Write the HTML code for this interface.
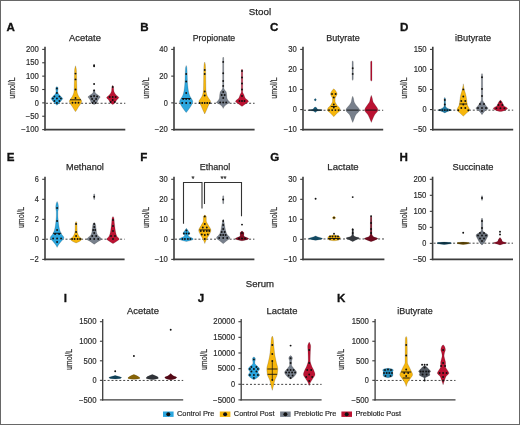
<!DOCTYPE html>
<html><head><meta charset="utf-8"><style>
html,body{margin:0;padding:0;background:#fff;}
body{width:520px;height:425px;overflow:hidden;}
svg{display:block;will-change:transform;font-family:"Liberation Sans",sans-serif;}
</style></head><body>
<svg width="520" height="425" viewBox="0 0 520 425">
<rect x="0" y="0" width="520" height="425" fill="#fff"/>
<rect x="0.5" y="0.5" width="519" height="424" fill="none" stroke="#676767" stroke-width="1"/>
<line x1="42.20" y1="49.40" x2="45.00" y2="49.40" stroke="#3c3c3c" stroke-width="1.1"/>
<text x="38.80" y="52.10" font-size="8.53" text-anchor="end" textLength="12.88" lengthAdjust="spacingAndGlyphs" fill="#2a2a2a" stroke="#2a2a2a" stroke-width="0.18">200</text>
<line x1="42.20" y1="62.77" x2="45.00" y2="62.77" stroke="#3c3c3c" stroke-width="1.1"/>
<text x="38.80" y="65.47" font-size="8.53" text-anchor="end" textLength="12.88" lengthAdjust="spacingAndGlyphs" fill="#2a2a2a" stroke="#2a2a2a" stroke-width="0.18">150</text>
<line x1="42.20" y1="76.13" x2="45.00" y2="76.13" stroke="#3c3c3c" stroke-width="1.1"/>
<text x="38.80" y="78.84" font-size="8.53" text-anchor="end" textLength="12.88" lengthAdjust="spacingAndGlyphs" fill="#2a2a2a" stroke="#2a2a2a" stroke-width="0.18">100</text>
<line x1="42.20" y1="89.50" x2="45.00" y2="89.50" stroke="#3c3c3c" stroke-width="1.1"/>
<text x="38.80" y="92.20" font-size="8.53" text-anchor="end" textLength="8.48" lengthAdjust="spacingAndGlyphs" fill="#2a2a2a" stroke="#2a2a2a" stroke-width="0.18">50</text>
<line x1="42.20" y1="102.87" x2="45.00" y2="102.87" stroke="#3c3c3c" stroke-width="1.1"/>
<text x="38.80" y="105.57" font-size="8.53" text-anchor="end" textLength="4.09" lengthAdjust="spacingAndGlyphs" fill="#2a2a2a" stroke="#2a2a2a" stroke-width="0.18">0</text>
<line x1="42.20" y1="116.23" x2="45.00" y2="116.23" stroke="#3c3c3c" stroke-width="1.1"/>
<text x="38.80" y="118.94" font-size="8.53" text-anchor="end" textLength="13.10" lengthAdjust="spacingAndGlyphs" fill="#2a2a2a" stroke="#2a2a2a" stroke-width="0.18">−50</text>
<line x1="42.20" y1="129.60" x2="45.00" y2="129.60" stroke="#3c3c3c" stroke-width="1.1"/>
<text x="38.80" y="132.30" font-size="8.53" text-anchor="end" textLength="17.49" lengthAdjust="spacingAndGlyphs" fill="#2a2a2a" stroke="#2a2a2a" stroke-width="0.18">−100</text>
<line x1="46.00" y1="103.27" x2="125.30" y2="103.27" stroke="#444" stroke-width="1.0" stroke-dasharray="2 1.9"/>
<path d="M56.90,86.50 L57.54,87.00 L57.90,87.50 L58.01,88.00 L58.08,88.50 L58.10,89.00 L58.05,89.50 L57.95,90.00 L57.85,90.50 L57.80,91.00 L57.82,91.50 L57.89,92.00 L57.98,92.50 L58.10,93.00 L58.30,93.50 L58.61,94.00 L59.00,94.50 L59.40,95.00 L59.85,95.50 L60.37,96.00 L60.90,96.50 L61.40,97.00 L61.94,97.50 L62.47,98.00 L62.70,98.50 L62.57,99.00 L62.23,99.50 L61.81,100.00 L61.40,100.50 L61.01,101.00 L60.59,101.50 L60.15,102.00 L59.70,102.50 L59.24,103.00 L58.76,103.50 L58.26,104.00 L57.75,104.50 L57.22,105.00 L56.90,105.30 L56.90,105.30 L56.58,105.00 L56.05,104.50 L55.54,104.00 L55.04,103.50 L54.56,103.00 L54.10,102.50 L53.65,102.00 L53.21,101.50 L52.79,101.00 L52.40,100.50 L51.99,100.00 L51.57,99.50 L51.23,99.00 L51.10,98.50 L51.33,98.00 L51.86,97.50 L52.40,97.00 L52.90,96.50 L53.43,96.00 L53.95,95.50 L54.40,95.00 L54.80,94.50 L55.19,94.00 L55.50,93.50 L55.70,93.00 L55.82,92.50 L55.91,92.00 L55.98,91.50 L56.00,91.00 L55.95,90.50 L55.85,90.00 L55.75,89.50 L55.70,89.00 L55.72,88.50 L55.79,88.00 L55.90,87.50 L56.26,87.00 L56.90,86.50Z" fill="#2ba6de" stroke="#000" stroke-opacity="0.3" stroke-width="0.5"/>
<circle cx="56.90" cy="88.50" r="0.95" fill="#111"/>
<circle cx="56.90" cy="93.00" r="0.95" fill="#111"/>
<circle cx="54.40" cy="96.50" r="0.95" fill="#111"/>
<circle cx="59.40" cy="96.50" r="0.95" fill="#111"/>
<circle cx="52.90" cy="98.50" r="0.95" fill="#111"/>
<circle cx="56.90" cy="98.50" r="0.95" fill="#111"/>
<circle cx="60.90" cy="98.50" r="0.95" fill="#111"/>
<circle cx="54.40" cy="101.00" r="0.95" fill="#111"/>
<circle cx="59.40" cy="101.00" r="0.95" fill="#111"/>
<circle cx="56.90" cy="103.00" r="0.95" fill="#111"/>
<path d="M75.50,65.80 L75.63,66.30 L75.77,66.80 L75.90,67.30 L76.03,67.80 L76.15,68.30 L76.25,68.80 L76.33,69.30 L76.39,69.80 L76.42,70.30 L76.44,70.80 L76.47,71.30 L76.49,71.80 L76.51,72.30 L76.53,72.80 L76.54,73.30 L76.56,73.80 L76.57,74.30 L76.58,74.80 L76.60,75.30 L76.61,75.80 L76.62,76.30 L76.63,76.80 L76.64,77.30 L76.65,77.80 L76.65,78.30 L76.66,78.80 L76.67,79.30 L76.68,79.80 L76.69,80.30 L76.70,80.80 L76.71,81.30 L76.72,81.80 L76.73,82.30 L76.74,82.80 L76.75,83.30 L76.76,83.80 L76.78,84.30 L76.79,84.80 L76.81,85.30 L76.83,85.80 L76.84,86.30 L76.85,86.80 L76.87,87.30 L76.88,87.80 L76.90,88.30 L76.92,88.80 L76.94,89.30 L76.96,89.80 L76.99,90.30 L77.01,90.80 L77.05,91.30 L77.08,91.80 L77.13,92.30 L77.23,92.80 L77.36,93.30 L77.53,93.80 L77.73,94.30 L77.94,94.80 L78.17,95.30 L78.41,95.80 L78.65,96.30 L78.96,96.80 L79.31,97.30 L79.67,97.80 L80.04,98.30 L80.38,98.80 L80.69,99.30 L81.05,99.80 L81.39,100.30 L81.63,100.80 L81.70,101.30 L81.61,101.80 L81.43,102.30 L81.18,102.80 L80.89,103.30 L80.61,103.80 L80.33,104.30 L80.02,104.80 L79.68,105.30 L79.33,105.80 L78.97,106.30 L78.63,106.80 L78.31,107.30 L78.01,107.80 L77.72,108.30 L77.43,108.80 L77.14,109.30 L76.83,109.80 L76.50,110.30 L76.15,110.80 L75.80,111.30 L75.50,111.70 L75.50,111.70 L75.20,111.30 L74.85,110.80 L74.50,110.30 L74.17,109.80 L73.86,109.30 L73.57,108.80 L73.28,108.30 L72.99,107.80 L72.69,107.30 L72.37,106.80 L72.03,106.30 L71.67,105.80 L71.32,105.30 L70.98,104.80 L70.67,104.30 L70.39,103.80 L70.11,103.30 L69.82,102.80 L69.57,102.30 L69.39,101.80 L69.30,101.30 L69.37,100.80 L69.61,100.30 L69.95,99.80 L70.31,99.30 L70.62,98.80 L70.96,98.30 L71.33,97.80 L71.69,97.30 L72.04,96.80 L72.35,96.30 L72.59,95.80 L72.83,95.30 L73.06,94.80 L73.27,94.30 L73.47,93.80 L73.64,93.30 L73.77,92.80 L73.87,92.30 L73.92,91.80 L73.95,91.30 L73.99,90.80 L74.01,90.30 L74.04,89.80 L74.06,89.30 L74.08,88.80 L74.10,88.30 L74.12,87.80 L74.13,87.30 L74.15,86.80 L74.16,86.30 L74.17,85.80 L74.19,85.30 L74.21,84.80 L74.22,84.30 L74.24,83.80 L74.25,83.30 L74.26,82.80 L74.27,82.30 L74.28,81.80 L74.29,81.30 L74.30,80.80 L74.31,80.30 L74.32,79.80 L74.33,79.30 L74.34,78.80 L74.35,78.30 L74.35,77.80 L74.36,77.30 L74.37,76.80 L74.38,76.30 L74.39,75.80 L74.40,75.30 L74.42,74.80 L74.43,74.30 L74.44,73.80 L74.46,73.30 L74.47,72.80 L74.49,72.30 L74.51,71.80 L74.53,71.30 L74.56,70.80 L74.58,70.30 L74.61,69.80 L74.67,69.30 L74.75,68.80 L74.85,68.30 L74.97,67.80 L75.10,67.30 L75.23,66.80 L75.37,66.30 L75.50,65.80Z" fill="#f6b60c" stroke="#000" stroke-opacity="0.3" stroke-width="0.5"/>
<line x1="70.00" y1="99.80" x2="81.00" y2="99.80" stroke="#111" stroke-width="0.9"/>
<circle cx="75.50" cy="73.60" r="0.95" fill="#111"/>
<circle cx="75.50" cy="79.40" r="0.95" fill="#111"/>
<circle cx="75.50" cy="89.50" r="0.95" fill="#111"/>
<circle cx="75.50" cy="98.00" r="0.95" fill="#111"/>
<circle cx="72.50" cy="102.70" r="0.95" fill="#111"/>
<circle cx="75.50" cy="102.70" r="0.95" fill="#111"/>
<circle cx="78.50" cy="102.70" r="0.95" fill="#111"/>
<path d="M94.10,89.50 L94.60,90.00 L94.90,90.50 L94.97,91.00 L95.00,91.50 L95.03,92.00 L95.10,92.50 L95.43,93.00 L95.99,93.50 L96.57,94.00 L97.24,94.50 L97.94,95.00 L98.60,95.50 L99.32,96.00 L99.98,96.50 L100.19,97.00 L99.95,97.50 L99.52,98.00 L99.10,98.50 L98.75,99.00 L98.41,99.50 L98.10,100.00 L97.84,100.50 L97.63,101.00 L97.43,101.50 L97.22,102.00 L96.95,102.50 L96.60,103.00 L96.04,103.50 L95.23,104.00 L94.29,104.50 L94.10,104.60 L94.10,104.60 L93.91,104.50 L92.97,104.00 L92.16,103.50 L91.60,103.00 L91.25,102.50 L90.98,102.00 L90.77,101.50 L90.57,101.00 L90.36,100.50 L90.10,100.00 L89.79,99.50 L89.45,99.00 L89.10,98.50 L88.68,98.00 L88.25,97.50 L88.01,97.00 L88.22,96.50 L88.88,96.00 L89.60,95.50 L90.26,95.00 L90.96,94.50 L91.63,94.00 L92.21,93.50 L92.77,93.00 L93.10,92.50 L93.17,92.00 L93.20,91.50 L93.23,91.00 L93.30,90.50 L93.60,90.00 L94.10,89.50Z" fill="#78808c" stroke="#000" stroke-opacity="0.3" stroke-width="0.5"/>
<circle cx="94.10" cy="65.30" r="0.95" fill="#111"/>
<circle cx="94.10" cy="66.30" r="0.95" fill="#111"/>
<circle cx="94.10" cy="84.00" r="0.95" fill="#111"/>
<circle cx="94.10" cy="90.40" r="0.95" fill="#111"/>
<circle cx="91.10" cy="96.50" r="0.95" fill="#111"/>
<circle cx="94.10" cy="96.00" r="0.95" fill="#111"/>
<circle cx="97.10" cy="96.50" r="0.95" fill="#111"/>
<circle cx="92.10" cy="99.00" r="0.95" fill="#111"/>
<circle cx="96.10" cy="99.00" r="0.95" fill="#111"/>
<circle cx="94.10" cy="101.00" r="0.95" fill="#111"/>
<circle cx="92.60" cy="103.00" r="0.95" fill="#111"/>
<circle cx="95.60" cy="103.00" r="0.95" fill="#111"/>
<path d="M112.70,85.20 L112.98,85.70 L113.23,86.20 L113.43,86.70 L113.53,87.20 L113.60,87.70 L113.65,88.20 L113.68,88.70 L113.72,89.20 L113.75,89.70 L113.79,90.20 L113.85,90.70 L113.94,91.20 L114.09,91.70 L114.30,92.20 L114.54,92.70 L114.81,93.20 L115.14,93.70 L115.54,94.20 L115.97,94.70 L116.43,95.20 L116.91,95.70 L117.56,96.20 L118.24,96.70 L118.71,97.20 L118.77,97.70 L118.50,98.20 L118.02,98.70 L117.47,99.20 L116.95,99.70 L116.57,100.20 L116.27,100.70 L116.01,101.20 L115.74,101.70 L115.42,102.20 L115.03,102.70 L114.53,103.20 L113.94,103.70 L113.27,104.20 L112.70,104.60 L112.70,104.60 L112.13,104.20 L111.46,103.70 L110.87,103.20 L110.37,102.70 L109.98,102.20 L109.66,101.70 L109.39,101.20 L109.13,100.70 L108.83,100.20 L108.45,99.70 L107.93,99.20 L107.38,98.70 L106.90,98.20 L106.63,97.70 L106.69,97.20 L107.16,96.70 L107.84,96.20 L108.49,95.70 L108.97,95.20 L109.43,94.70 L109.86,94.20 L110.26,93.70 L110.59,93.20 L110.86,92.70 L111.10,92.20 L111.31,91.70 L111.46,91.20 L111.55,90.70 L111.61,90.20 L111.65,89.70 L111.68,89.20 L111.72,88.70 L111.75,88.20 L111.80,87.70 L111.87,87.20 L111.97,86.70 L112.17,86.20 L112.42,85.70 L112.70,85.20Z" fill="#bb1232" stroke="#000" stroke-opacity="0.3" stroke-width="0.5"/>
<circle cx="112.70" cy="87.00" r="0.95" fill="#111"/>
<circle cx="109.70" cy="97.00" r="0.95" fill="#111"/>
<circle cx="112.70" cy="97.00" r="0.95" fill="#111"/>
<circle cx="115.70" cy="97.00" r="0.95" fill="#111"/>
<circle cx="112.70" cy="100.00" r="0.95" fill="#111"/>
<circle cx="110.70" cy="102.00" r="0.95" fill="#111"/>
<circle cx="114.70" cy="102.00" r="0.95" fill="#111"/>
<line x1="45.00" y1="46.80" x2="45.00" y2="130.40" stroke="#3c3c3c" stroke-width="1.60"/>
<line x1="44.20" y1="129.60" x2="125.30" y2="129.60" stroke="#3c3c3c" stroke-width="1.60"/>
<text x="85.00" y="41.20" font-size="9.8" text-anchor="middle" textLength="31.8" lengthAdjust="spacingAndGlyphs" fill="#2a2a2a" stroke="#2a2a2a" stroke-width="0.25">Acetate</text>
<text x="6.50" y="30.60" font-size="11.6" font-weight="bold" fill="#111" stroke="#111" stroke-width="0.3">A</text>
<text transform="translate(14.70,88.10) rotate(-90)" font-size="9.4" text-anchor="middle" textLength="21.4" lengthAdjust="spacingAndGlyphs" fill="#2a2a2a" stroke="#2a2a2a" stroke-width="0.2">umol/L</text>
<line x1="171.20" y1="49.40" x2="174.00" y2="49.40" stroke="#3c3c3c" stroke-width="1.1"/>
<text x="167.80" y="52.10" font-size="8.53" text-anchor="end" textLength="8.48" lengthAdjust="spacingAndGlyphs" fill="#2a2a2a" stroke="#2a2a2a" stroke-width="0.18">40</text>
<line x1="171.20" y1="76.13" x2="174.00" y2="76.13" stroke="#3c3c3c" stroke-width="1.1"/>
<text x="167.80" y="78.84" font-size="8.53" text-anchor="end" textLength="8.48" lengthAdjust="spacingAndGlyphs" fill="#2a2a2a" stroke="#2a2a2a" stroke-width="0.18">20</text>
<line x1="171.20" y1="102.87" x2="174.00" y2="102.87" stroke="#3c3c3c" stroke-width="1.1"/>
<text x="167.80" y="105.57" font-size="8.53" text-anchor="end" textLength="4.09" lengthAdjust="spacingAndGlyphs" fill="#2a2a2a" stroke="#2a2a2a" stroke-width="0.18">0</text>
<line x1="171.20" y1="129.60" x2="174.00" y2="129.60" stroke="#3c3c3c" stroke-width="1.1"/>
<text x="167.80" y="132.30" font-size="8.53" text-anchor="end" textLength="13.10" lengthAdjust="spacingAndGlyphs" fill="#2a2a2a" stroke="#2a2a2a" stroke-width="0.18">−20</text>
<line x1="175.00" y1="103.27" x2="254.60" y2="103.27" stroke="#444" stroke-width="1.0" stroke-dasharray="2 1.9"/>
<path d="M186.20,65.50 L186.38,66.00 L186.55,66.50 L186.70,67.00 L186.82,67.50 L186.90,68.00 L186.95,68.50 L186.98,69.00 L187.02,69.50 L187.05,70.00 L187.07,70.50 L187.09,71.00 L187.11,71.50 L187.13,72.00 L187.15,72.50 L187.17,73.00 L187.19,73.50 L187.21,74.00 L187.23,74.50 L187.25,75.00 L187.27,75.50 L187.28,76.00 L187.30,76.50 L187.32,77.00 L187.33,77.50 L187.35,78.00 L187.36,78.50 L187.38,79.00 L187.40,79.50 L187.41,80.00 L187.43,80.50 L187.46,81.00 L187.48,81.50 L187.51,82.00 L187.53,82.50 L187.57,83.00 L187.60,83.50 L187.64,84.00 L187.68,84.50 L187.72,85.00 L187.76,85.50 L187.81,86.00 L187.86,86.50 L187.92,87.00 L187.97,87.50 L188.03,88.00 L188.09,88.50 L188.16,89.00 L188.23,89.50 L188.30,90.00 L188.38,90.50 L188.47,91.00 L188.56,91.50 L188.67,92.00 L188.79,92.50 L188.92,93.00 L189.05,93.50 L189.20,94.00 L189.36,94.50 L189.52,95.00 L189.70,95.50 L189.91,96.00 L190.18,96.50 L190.48,97.00 L190.80,97.50 L191.13,98.00 L191.43,98.50 L191.70,99.00 L191.97,99.50 L192.26,100.00 L192.53,100.50 L192.73,101.00 L192.80,101.50 L192.76,102.00 L192.64,102.50 L192.46,103.00 L192.24,103.50 L192.00,104.00 L191.74,104.50 L191.50,105.00 L191.25,105.50 L190.97,106.00 L190.66,106.50 L190.34,107.00 L190.00,107.50 L189.65,108.00 L189.30,108.50 L188.94,109.00 L188.59,109.50 L188.23,110.00 L187.85,110.50 L187.47,111.00 L187.08,111.50 L186.69,112.00 L186.28,112.50 L186.20,112.60 L186.20,112.60 L186.12,112.50 L185.71,112.00 L185.32,111.50 L184.93,111.00 L184.55,110.50 L184.17,110.00 L183.81,109.50 L183.46,109.00 L183.10,108.50 L182.75,108.00 L182.40,107.50 L182.06,107.00 L181.74,106.50 L181.43,106.00 L181.15,105.50 L180.90,105.00 L180.66,104.50 L180.40,104.00 L180.16,103.50 L179.94,103.00 L179.76,102.50 L179.64,102.00 L179.60,101.50 L179.67,101.00 L179.87,100.50 L180.14,100.00 L180.43,99.50 L180.70,99.00 L180.97,98.50 L181.27,98.00 L181.60,97.50 L181.92,97.00 L182.22,96.50 L182.49,96.00 L182.70,95.50 L182.88,95.00 L183.04,94.50 L183.20,94.00 L183.35,93.50 L183.48,93.00 L183.61,92.50 L183.73,92.00 L183.84,91.50 L183.93,91.00 L184.02,90.50 L184.10,90.00 L184.17,89.50 L184.24,89.00 L184.31,88.50 L184.37,88.00 L184.43,87.50 L184.48,87.00 L184.54,86.50 L184.59,86.00 L184.64,85.50 L184.68,85.00 L184.72,84.50 L184.76,84.00 L184.80,83.50 L184.83,83.00 L184.87,82.50 L184.89,82.00 L184.92,81.50 L184.94,81.00 L184.97,80.50 L184.99,80.00 L185.00,79.50 L185.02,79.00 L185.04,78.50 L185.05,78.00 L185.07,77.50 L185.08,77.00 L185.10,76.50 L185.12,76.00 L185.13,75.50 L185.15,75.00 L185.17,74.50 L185.19,74.00 L185.21,73.50 L185.23,73.00 L185.25,72.50 L185.27,72.00 L185.29,71.50 L185.31,71.00 L185.33,70.50 L185.35,70.00 L185.38,69.50 L185.42,69.00 L185.45,68.50 L185.50,68.00 L185.58,67.50 L185.70,67.00 L185.85,66.50 L186.02,66.00 L186.20,65.50Z" fill="#2ba6de" stroke="#000" stroke-opacity="0.3" stroke-width="0.5"/>
<line x1="181.70" y1="98.50" x2="190.70" y2="98.50" stroke="#111" stroke-width="0.9"/>
<circle cx="186.20" cy="74.00" r="0.95" fill="#111"/>
<circle cx="186.20" cy="81.50" r="0.95" fill="#111"/>
<circle cx="186.20" cy="93.00" r="0.95" fill="#111"/>
<circle cx="183.20" cy="99.00" r="0.95" fill="#111"/>
<circle cx="186.20" cy="99.00" r="0.95" fill="#111"/>
<circle cx="189.20" cy="99.00" r="0.95" fill="#111"/>
<circle cx="182.20" cy="103.00" r="0.95" fill="#111"/>
<circle cx="186.20" cy="103.00" r="0.95" fill="#111"/>
<circle cx="190.20" cy="103.00" r="0.95" fill="#111"/>
<path d="M204.70,62.00 L204.85,62.50 L204.99,63.00 L205.13,63.50 L205.25,64.00 L205.34,64.50 L205.40,65.00 L205.43,65.50 L205.46,66.00 L205.49,66.50 L205.51,67.00 L205.53,67.50 L205.55,68.00 L205.57,68.50 L205.59,69.00 L205.60,69.50 L205.61,70.00 L205.63,70.50 L205.64,71.00 L205.65,71.50 L205.66,72.00 L205.67,72.50 L205.68,73.00 L205.70,73.50 L205.71,74.00 L205.72,74.50 L205.73,75.00 L205.74,75.50 L205.75,76.00 L205.76,76.50 L205.76,77.00 L205.77,77.50 L205.78,78.00 L205.78,78.50 L205.79,79.00 L205.79,79.50 L205.80,80.00 L205.81,80.50 L205.81,81.00 L205.82,81.50 L205.82,82.00 L205.83,82.50 L205.83,83.00 L205.84,83.50 L205.85,84.00 L205.86,84.50 L205.87,85.00 L205.87,85.50 L205.88,86.00 L205.89,86.50 L205.91,87.00 L205.92,87.50 L205.93,88.00 L205.95,88.50 L205.96,89.00 L205.98,89.50 L206.00,90.00 L206.03,90.50 L206.08,91.00 L206.14,91.50 L206.22,92.00 L206.31,92.50 L206.42,93.00 L206.53,93.50 L206.66,94.00 L206.80,94.50 L206.95,95.00 L207.10,95.50 L207.30,96.00 L207.57,96.50 L207.88,97.00 L208.20,97.50 L208.52,98.00 L208.82,98.50 L209.16,99.00 L209.54,99.50 L209.90,100.00 L210.20,100.50 L210.42,101.00 L210.50,101.50 L210.43,102.00 L210.24,102.50 L209.96,103.00 L209.64,103.50 L209.30,104.00 L208.97,104.50 L208.70,105.00 L208.47,105.50 L208.25,106.00 L208.04,106.50 L207.83,107.00 L207.62,107.50 L207.41,108.00 L207.20,108.50 L206.99,109.00 L206.77,109.50 L206.54,110.00 L206.32,110.50 L206.09,111.00 L205.86,111.50 L205.64,112.00 L205.40,112.50 L205.17,113.00 L204.94,113.50 L204.70,114.00 L204.70,114.00 L204.46,113.50 L204.23,113.00 L204.00,112.50 L203.76,112.00 L203.54,111.50 L203.31,111.00 L203.08,110.50 L202.86,110.00 L202.63,109.50 L202.41,109.00 L202.20,108.50 L201.99,108.00 L201.78,107.50 L201.57,107.00 L201.36,106.50 L201.15,106.00 L200.93,105.50 L200.70,105.00 L200.43,104.50 L200.10,104.00 L199.76,103.50 L199.44,103.00 L199.16,102.50 L198.97,102.00 L198.90,101.50 L198.98,101.00 L199.20,100.50 L199.50,100.00 L199.86,99.50 L200.24,99.00 L200.58,98.50 L200.88,98.00 L201.20,97.50 L201.52,97.00 L201.83,96.50 L202.10,96.00 L202.30,95.50 L202.45,95.00 L202.60,94.50 L202.74,94.00 L202.87,93.50 L202.98,93.00 L203.09,92.50 L203.18,92.00 L203.26,91.50 L203.32,91.00 L203.37,90.50 L203.40,90.00 L203.42,89.50 L203.44,89.00 L203.45,88.50 L203.47,88.00 L203.48,87.50 L203.49,87.00 L203.51,86.50 L203.52,86.00 L203.53,85.50 L203.53,85.00 L203.54,84.50 L203.55,84.00 L203.56,83.50 L203.57,83.00 L203.57,82.50 L203.58,82.00 L203.58,81.50 L203.59,81.00 L203.59,80.50 L203.60,80.00 L203.61,79.50 L203.61,79.00 L203.62,78.50 L203.62,78.00 L203.63,77.50 L203.64,77.00 L203.64,76.50 L203.65,76.00 L203.66,75.50 L203.67,75.00 L203.68,74.50 L203.69,74.00 L203.70,73.50 L203.72,73.00 L203.73,72.50 L203.74,72.00 L203.75,71.50 L203.76,71.00 L203.77,70.50 L203.79,70.00 L203.80,69.50 L203.81,69.00 L203.83,68.50 L203.85,68.00 L203.87,67.50 L203.89,67.00 L203.91,66.50 L203.94,66.00 L203.97,65.50 L204.00,65.00 L204.06,64.50 L204.15,64.00 L204.27,63.50 L204.41,63.00 L204.55,62.50 L204.70,62.00Z" fill="#f6b60c" stroke="#000" stroke-opacity="0.3" stroke-width="0.5"/>
<circle cx="204.70" cy="70.00" r="0.95" fill="#111"/>
<circle cx="204.70" cy="74.00" r="0.95" fill="#111"/>
<circle cx="204.70" cy="91.50" r="0.95" fill="#111"/>
<circle cx="204.70" cy="95.50" r="0.95" fill="#111"/>
<circle cx="199.70" cy="103.00" r="0.95" fill="#111"/>
<circle cx="202.20" cy="103.00" r="0.95" fill="#111"/>
<circle cx="204.70" cy="103.00" r="0.95" fill="#111"/>
<circle cx="207.20" cy="103.00" r="0.95" fill="#111"/>
<circle cx="209.70" cy="103.00" r="0.95" fill="#111"/>
<path d="M223.20,57.00 L223.51,57.50 L223.70,58.00 L223.70,58.50 L223.71,59.00 L223.71,59.50 L223.72,60.00 L223.72,60.50 L223.72,61.00 L223.73,61.50 L223.73,62.00 L223.73,62.50 L223.73,63.00 L223.74,63.50 L223.74,64.00 L223.74,64.50 L223.74,65.00 L223.74,65.50 L223.74,66.00 L223.75,66.50 L223.75,67.00 L223.75,67.50 L223.75,68.00 L223.75,68.50 L223.75,69.00 L223.75,69.50 L223.75,70.00 L223.75,70.50 L223.75,71.00 L223.75,71.50 L223.75,72.00 L223.75,72.50 L223.75,73.00 L223.75,73.50 L223.75,74.00 L223.75,74.50 L223.75,75.00 L223.75,75.50 L223.75,76.00 L223.75,76.50 L223.75,77.00 L223.75,77.50 L223.75,78.00 L223.75,78.50 L223.76,79.00 L223.76,79.50 L223.76,80.00 L223.76,80.50 L223.76,81.00 L223.76,81.50 L223.76,82.00 L223.76,82.50 L223.77,83.00 L223.77,83.50 L223.77,84.00 L223.77,84.50 L223.78,85.00 L223.78,85.50 L223.78,86.00 L223.79,86.50 L223.79,87.00 L223.80,87.50 L223.80,88.00 L223.89,88.50 L224.11,89.00 L224.40,89.50 L224.70,90.00 L225.07,90.50 L225.52,91.00 L225.94,91.50 L226.20,92.00 L226.33,92.50 L226.43,93.00 L226.51,93.50 L226.58,94.00 L226.64,94.50 L226.70,95.00 L226.75,95.50 L226.80,96.00 L226.83,96.50 L226.87,97.00 L226.93,97.50 L227.00,98.00 L227.13,98.50 L227.33,99.00 L227.59,99.50 L227.89,100.00 L228.20,100.50 L228.66,101.00 L229.26,101.50 L229.78,102.00 L230.00,102.50 L229.44,103.00 L228.26,103.50 L227.20,104.00 L226.46,104.50 L225.78,105.00 L225.18,105.50 L224.70,106.00 L224.30,106.50 L223.93,107.00 L223.62,107.50 L223.37,108.00 L223.20,108.50 L223.20,108.50 L223.03,108.00 L222.78,107.50 L222.47,107.00 L222.10,106.50 L221.70,106.00 L221.22,105.50 L220.62,105.00 L219.94,104.50 L219.20,104.00 L218.14,103.50 L216.96,103.00 L216.40,102.50 L216.62,102.00 L217.14,101.50 L217.74,101.00 L218.20,100.50 L218.51,100.00 L218.81,99.50 L219.07,99.00 L219.27,98.50 L219.40,98.00 L219.47,97.50 L219.53,97.00 L219.57,96.50 L219.60,96.00 L219.65,95.50 L219.70,95.00 L219.76,94.50 L219.82,94.00 L219.89,93.50 L219.97,93.00 L220.07,92.50 L220.20,92.00 L220.46,91.50 L220.88,91.00 L221.33,90.50 L221.70,90.00 L222.00,89.50 L222.29,89.00 L222.51,88.50 L222.60,88.00 L222.60,87.50 L222.61,87.00 L222.61,86.50 L222.62,86.00 L222.62,85.50 L222.62,85.00 L222.63,84.50 L222.63,84.00 L222.63,83.50 L222.63,83.00 L222.64,82.50 L222.64,82.00 L222.64,81.50 L222.64,81.00 L222.64,80.50 L222.64,80.00 L222.64,79.50 L222.64,79.00 L222.65,78.50 L222.65,78.00 L222.65,77.50 L222.65,77.00 L222.65,76.50 L222.65,76.00 L222.65,75.50 L222.65,75.00 L222.65,74.50 L222.65,74.00 L222.65,73.50 L222.65,73.00 L222.65,72.50 L222.65,72.00 L222.65,71.50 L222.65,71.00 L222.65,70.50 L222.65,70.00 L222.65,69.50 L222.65,69.00 L222.65,68.50 L222.65,68.00 L222.65,67.50 L222.65,67.00 L222.65,66.50 L222.66,66.00 L222.66,65.50 L222.66,65.00 L222.66,64.50 L222.66,64.00 L222.66,63.50 L222.67,63.00 L222.67,62.50 L222.67,62.00 L222.67,61.50 L222.68,61.00 L222.68,60.50 L222.68,60.00 L222.69,59.50 L222.69,59.00 L222.70,58.50 L222.70,58.00 L222.89,57.50 L223.20,57.00Z" fill="#78808c" stroke="#000" stroke-opacity="0.3" stroke-width="0.5"/>
<circle cx="223.20" cy="61.90" r="0.95" fill="#111"/>
<circle cx="223.20" cy="73.20" r="0.95" fill="#111"/>
<circle cx="223.20" cy="81.00" r="0.95" fill="#111"/>
<circle cx="223.20" cy="85.90" r="0.95" fill="#111"/>
<circle cx="223.20" cy="92.00" r="0.95" fill="#111"/>
<circle cx="221.70" cy="95.00" r="0.95" fill="#111"/>
<circle cx="224.70" cy="95.00" r="0.95" fill="#111"/>
<circle cx="223.20" cy="98.00" r="0.95" fill="#111"/>
<circle cx="220.20" cy="102.50" r="0.95" fill="#111"/>
<circle cx="223.20" cy="102.50" r="0.95" fill="#111"/>
<circle cx="226.20" cy="102.50" r="0.95" fill="#111"/>
<path d="M242.00,69.00 L242.38,69.50 L242.60,70.00 L242.61,70.50 L242.61,71.00 L242.62,71.50 L242.62,72.00 L242.63,72.50 L242.63,73.00 L242.63,73.50 L242.64,74.00 L242.64,74.50 L242.64,75.00 L242.64,75.50 L242.64,76.00 L242.65,76.50 L242.65,77.00 L242.65,77.50 L242.65,78.00 L242.65,78.50 L242.65,79.00 L242.65,79.50 L242.65,80.00 L242.65,80.50 L242.65,81.00 L242.65,81.50 L242.65,82.00 L242.65,82.50 L242.65,83.00 L242.65,83.50 L242.65,84.00 L242.66,84.50 L242.66,85.00 L242.66,85.50 L242.66,86.00 L242.66,86.50 L242.66,87.00 L242.66,87.50 L242.67,88.00 L242.67,88.50 L242.67,89.00 L242.68,89.50 L242.68,90.00 L242.68,90.50 L242.69,91.00 L242.69,91.50 L242.70,92.00 L242.78,92.50 L242.99,93.00 L243.26,93.50 L243.55,94.00 L243.80,94.50 L244.00,95.00 L244.18,95.50 L244.35,96.00 L244.53,96.50 L244.72,97.00 L244.94,97.50 L245.20,98.00 L245.60,98.50 L246.17,99.00 L246.83,99.50 L247.47,100.00 L248.03,100.50 L248.40,101.00 L248.49,101.50 L248.16,102.00 L247.51,102.50 L246.73,103.00 L246.00,103.50 L245.35,104.00 L244.69,104.50 L244.01,105.00 L243.31,105.50 L242.59,106.00 L242.00,106.40 L242.00,106.40 L241.41,106.00 L240.69,105.50 L239.99,105.00 L239.31,104.50 L238.65,104.00 L238.00,103.50 L237.27,103.00 L236.49,102.50 L235.84,102.00 L235.51,101.50 L235.60,101.00 L235.97,100.50 L236.53,100.00 L237.17,99.50 L237.83,99.00 L238.40,98.50 L238.80,98.00 L239.06,97.50 L239.28,97.00 L239.47,96.50 L239.65,96.00 L239.82,95.50 L240.00,95.00 L240.20,94.50 L240.45,94.00 L240.74,93.50 L241.01,93.00 L241.22,92.50 L241.30,92.00 L241.31,91.50 L241.31,91.00 L241.32,90.50 L241.32,90.00 L241.32,89.50 L241.33,89.00 L241.33,88.50 L241.33,88.00 L241.34,87.50 L241.34,87.00 L241.34,86.50 L241.34,86.00 L241.34,85.50 L241.34,85.00 L241.34,84.50 L241.35,84.00 L241.35,83.50 L241.35,83.00 L241.35,82.50 L241.35,82.00 L241.35,81.50 L241.35,81.00 L241.35,80.50 L241.35,80.00 L241.35,79.50 L241.35,79.00 L241.35,78.50 L241.35,78.00 L241.35,77.50 L241.35,77.00 L241.35,76.50 L241.36,76.00 L241.36,75.50 L241.36,75.00 L241.36,74.50 L241.36,74.00 L241.37,73.50 L241.37,73.00 L241.37,72.50 L241.38,72.00 L241.38,71.50 L241.39,71.00 L241.39,70.50 L241.40,70.00 L241.62,69.50 L242.00,69.00Z" fill="#bb1232" stroke="#000" stroke-opacity="0.3" stroke-width="0.5"/>
<circle cx="242.00" cy="71.00" r="0.95" fill="#111"/>
<circle cx="242.00" cy="77.50" r="0.95" fill="#111"/>
<circle cx="242.00" cy="83.50" r="0.95" fill="#111"/>
<circle cx="242.00" cy="89.50" r="0.95" fill="#111"/>
<circle cx="242.00" cy="96.00" r="0.95" fill="#111"/>
<circle cx="239.50" cy="101.00" r="0.95" fill="#111"/>
<circle cx="242.00" cy="101.00" r="0.95" fill="#111"/>
<circle cx="244.50" cy="101.00" r="0.95" fill="#111"/>
<line x1="174.00" y1="46.80" x2="174.00" y2="130.40" stroke="#3c3c3c" stroke-width="1.60"/>
<line x1="173.20" y1="129.60" x2="254.60" y2="129.60" stroke="#3c3c3c" stroke-width="1.60"/>
<text x="214.00" y="41.20" font-size="9.8" text-anchor="middle" textLength="42.5" lengthAdjust="spacingAndGlyphs" fill="#2a2a2a" stroke="#2a2a2a" stroke-width="0.25">Propionate</text>
<text x="140.30" y="30.60" font-size="11.6" font-weight="bold" fill="#111" stroke="#111" stroke-width="0.3">B</text>
<text transform="translate(148.60,88.10) rotate(-90)" font-size="9.4" text-anchor="middle" textLength="21.4" lengthAdjust="spacingAndGlyphs" fill="#2a2a2a" stroke="#2a2a2a" stroke-width="0.2">umol/L</text>
<line x1="300.20" y1="49.40" x2="303.00" y2="49.40" stroke="#3c3c3c" stroke-width="1.1"/>
<text x="296.80" y="52.10" font-size="8.53" text-anchor="end" textLength="8.48" lengthAdjust="spacingAndGlyphs" fill="#2a2a2a" stroke="#2a2a2a" stroke-width="0.18">30</text>
<line x1="300.20" y1="69.45" x2="303.00" y2="69.45" stroke="#3c3c3c" stroke-width="1.1"/>
<text x="296.80" y="72.15" font-size="8.53" text-anchor="end" textLength="8.48" lengthAdjust="spacingAndGlyphs" fill="#2a2a2a" stroke="#2a2a2a" stroke-width="0.18">20</text>
<line x1="300.20" y1="89.50" x2="303.00" y2="89.50" stroke="#3c3c3c" stroke-width="1.1"/>
<text x="296.80" y="92.20" font-size="8.53" text-anchor="end" textLength="8.48" lengthAdjust="spacingAndGlyphs" fill="#2a2a2a" stroke="#2a2a2a" stroke-width="0.18">10</text>
<line x1="300.20" y1="109.55" x2="303.00" y2="109.55" stroke="#3c3c3c" stroke-width="1.1"/>
<text x="296.80" y="112.25" font-size="8.53" text-anchor="end" textLength="4.09" lengthAdjust="spacingAndGlyphs" fill="#2a2a2a" stroke="#2a2a2a" stroke-width="0.18">0</text>
<line x1="300.20" y1="129.60" x2="303.00" y2="129.60" stroke="#3c3c3c" stroke-width="1.1"/>
<text x="296.80" y="132.30" font-size="8.53" text-anchor="end" textLength="13.10" lengthAdjust="spacingAndGlyphs" fill="#2a2a2a" stroke="#2a2a2a" stroke-width="0.18">−10</text>
<line x1="304.00" y1="110.25" x2="383.20" y2="110.25" stroke="#444" stroke-width="1.0" stroke-dasharray="2 1.9"/>
<path d="M315.30,98.50 L315.93,99.00 L316.25,99.50 L316.27,100.00 L315.95,100.50 L315.30,101.00 L315.30,101.00 L314.65,100.50 L314.33,100.00 L314.35,99.50 L314.67,99.00 L315.30,98.50Z" fill="#2ba6de" stroke="#000" stroke-opacity="0.3" stroke-width="0.5"/>
<path d="M315.30,98.50 L315.93,99.00 L316.25,99.50 L316.27,100.00 L315.95,100.50 L315.30,101.00 L315.30,101.00 L314.65,100.50 L314.33,100.00 L314.35,99.50 L314.67,99.00 L315.30,98.50Z" fill="#000" fill-opacity="0.45"/>
<path d="M315.30,107.00 L316.22,107.50 L316.80,108.00 L316.99,108.50 L317.13,109.00 L318.20,109.50 L322.29,110.00 L320.55,110.50 L317.30,111.00 L316.32,111.50 L315.63,112.00 L315.31,112.50 L315.30,112.60 L315.30,112.60 L315.29,112.50 L314.97,112.00 L314.28,111.50 L313.30,111.00 L310.05,110.50 L308.31,110.00 L312.40,109.50 L313.47,109.00 L313.61,108.50 L313.80,108.00 L314.38,107.50 L315.30,107.00Z" fill="#2ba6de" stroke="#000" stroke-opacity="0.3" stroke-width="0.5"/>
<path d="M315.30,107.00 L316.22,107.50 L316.80,108.00 L316.99,108.50 L317.13,109.00 L318.20,109.50 L322.29,110.00 L320.55,110.50 L317.30,111.00 L316.32,111.50 L315.63,112.00 L315.31,112.50 L315.30,112.60 L315.30,112.60 L315.29,112.50 L314.97,112.00 L314.28,111.50 L313.30,111.00 L310.05,110.50 L308.31,110.00 L312.40,109.50 L313.47,109.00 L313.61,108.50 L313.80,108.00 L314.38,107.50 L315.30,107.00Z" fill="#000" fill-opacity="0.45"/>
<line x1="308.80" y1="110.10" x2="321.80" y2="110.10" stroke="#111" stroke-width="0.9"/>
<path d="M333.80,88.70 L334.32,89.20 L334.80,89.70 L335.23,90.20 L335.61,90.70 L335.92,91.20 L336.22,91.70 L336.51,92.20 L336.77,92.70 L336.96,93.20 L337.08,93.70 L337.09,94.20 L336.95,94.70 L336.72,95.20 L336.43,95.70 L336.15,96.20 L335.90,96.70 L335.61,97.20 L335.33,97.70 L335.14,98.20 L335.10,98.70 L335.10,99.20 L335.10,99.70 L335.10,100.20 L335.10,100.70 L335.10,101.20 L335.12,101.70 L335.27,102.20 L335.53,102.70 L335.83,103.20 L336.11,103.70 L336.38,104.20 L336.68,104.70 L337.01,105.20 L337.38,105.70 L337.86,106.20 L338.43,106.70 L338.98,107.20 L339.43,107.70 L339.69,108.20 L339.89,108.70 L340.06,109.20 L340.17,109.70 L340.19,110.20 L339.97,110.70 L339.52,111.20 L338.91,111.70 L338.25,112.20 L337.62,112.70 L337.11,113.20 L336.62,113.70 L336.14,114.20 L335.67,114.70 L335.19,115.20 L334.72,115.70 L334.26,116.20 L333.80,116.70 L333.80,116.70 L333.34,116.20 L332.88,115.70 L332.41,115.20 L331.93,114.70 L331.46,114.20 L330.98,113.70 L330.49,113.20 L329.98,112.70 L329.35,112.20 L328.69,111.70 L328.08,111.20 L327.63,110.70 L327.41,110.20 L327.43,109.70 L327.54,109.20 L327.71,108.70 L327.91,108.20 L328.17,107.70 L328.62,107.20 L329.17,106.70 L329.74,106.20 L330.22,105.70 L330.59,105.20 L330.92,104.70 L331.22,104.20 L331.49,103.70 L331.77,103.20 L332.07,102.70 L332.33,102.20 L332.48,101.70 L332.50,101.20 L332.50,100.70 L332.50,100.20 L332.50,99.70 L332.50,99.20 L332.50,98.70 L332.46,98.20 L332.27,97.70 L331.99,97.20 L331.70,96.70 L331.45,96.20 L331.17,95.70 L330.88,95.20 L330.65,94.70 L330.51,94.20 L330.52,93.70 L330.64,93.20 L330.83,92.70 L331.09,92.20 L331.38,91.70 L331.68,91.20 L331.99,90.70 L332.37,90.20 L332.80,89.70 L333.28,89.20 L333.80,88.70Z" fill="#f6b60c" stroke="#000" stroke-opacity="0.3" stroke-width="0.5"/>
<line x1="330.80" y1="106.50" x2="336.80" y2="106.50" stroke="#111" stroke-width="0.9"/>
<circle cx="332.00" cy="94.00" r="0.95" fill="#111"/>
<circle cx="335.60" cy="94.00" r="0.95" fill="#111"/>
<circle cx="333.80" cy="97.50" r="0.95" fill="#111"/>
<circle cx="333.80" cy="104.50" r="0.95" fill="#111"/>
<circle cx="333.80" cy="107.50" r="0.95" fill="#111"/>
<circle cx="329.00" cy="110.10" r="0.95" fill="#111"/>
<circle cx="332.20" cy="110.10" r="0.95" fill="#111"/>
<circle cx="335.40" cy="110.10" r="0.95" fill="#111"/>
<circle cx="338.60" cy="110.10" r="0.95" fill="#111"/>
<path d="M352.70,60.80 L352.99,61.30 L353.22,61.80 L353.25,62.30 L353.25,62.80 L353.25,63.30 L353.25,63.80 L353.25,64.30 L353.25,64.80 L353.25,65.30 L353.25,65.80 L353.25,66.30 L353.25,66.80 L353.25,67.30 L353.25,67.80 L353.25,68.30 L353.25,68.80 L353.25,69.30 L353.25,69.80 L353.25,70.30 L353.25,70.80 L353.25,71.30 L353.25,71.80 L353.25,72.30 L353.25,72.80 L353.25,73.30 L353.25,73.80 L353.25,74.30 L353.25,74.80 L353.25,75.30 L353.25,75.80 L353.25,76.30 L353.25,76.80 L353.25,77.30 L353.25,77.80 L353.25,78.30 L353.25,78.80 L353.21,79.30 L353.03,79.80 L352.79,80.30 L352.70,80.50 L352.70,80.50 L352.61,80.30 L352.37,79.80 L352.19,79.30 L352.15,78.80 L352.15,78.30 L352.15,77.80 L352.15,77.30 L352.15,76.80 L352.15,76.30 L352.15,75.80 L352.15,75.30 L352.15,74.80 L352.15,74.30 L352.15,73.80 L352.15,73.30 L352.15,72.80 L352.15,72.30 L352.15,71.80 L352.15,71.30 L352.15,70.80 L352.15,70.30 L352.15,69.80 L352.15,69.30 L352.15,68.80 L352.15,68.30 L352.15,67.80 L352.15,67.30 L352.15,66.80 L352.15,66.30 L352.15,65.80 L352.15,65.30 L352.15,64.80 L352.15,64.30 L352.15,63.80 L352.15,63.30 L352.15,62.80 L352.15,62.30 L352.18,61.80 L352.41,61.30 L352.70,60.80Z" fill="#78808c" stroke="#000" stroke-opacity="0.3" stroke-width="0.5"/>
<path d="M352.70,96.20 L352.92,96.70 L353.13,97.20 L353.31,97.70 L353.45,98.20 L353.57,98.70 L353.66,99.20 L353.74,99.70 L353.83,100.20 L353.91,100.70 L354.01,101.20 L354.14,101.70 L354.31,102.20 L354.55,102.70 L354.84,103.20 L355.16,103.70 L355.48,104.20 L355.79,104.70 L356.17,105.20 L356.59,105.70 L357.03,106.20 L357.49,106.70 L357.94,107.20 L358.36,107.70 L358.75,108.20 L359.07,108.70 L359.31,109.20 L359.46,109.70 L359.50,110.20 L359.38,110.70 L359.11,111.20 L358.74,111.70 L358.28,112.20 L357.77,112.70 L357.24,113.20 L356.73,113.70 L356.27,114.20 L355.88,114.70 L355.60,115.20 L355.35,115.70 L355.13,116.20 L354.92,116.70 L354.73,117.20 L354.55,117.70 L354.37,118.20 L354.19,118.70 L354.01,119.20 L353.82,119.70 L353.62,120.20 L353.42,120.70 L353.22,121.20 L353.02,121.70 L352.82,122.20 L352.70,122.50 L352.70,122.50 L352.58,122.20 L352.38,121.70 L352.18,121.20 L351.98,120.70 L351.78,120.20 L351.58,119.70 L351.39,119.20 L351.21,118.70 L351.03,118.20 L350.85,117.70 L350.67,117.20 L350.48,116.70 L350.27,116.20 L350.05,115.70 L349.80,115.20 L349.52,114.70 L349.13,114.20 L348.67,113.70 L348.16,113.20 L347.63,112.70 L347.12,112.20 L346.66,111.70 L346.29,111.20 L346.02,110.70 L345.90,110.20 L345.94,109.70 L346.09,109.20 L346.33,108.70 L346.65,108.20 L347.04,107.70 L347.46,107.20 L347.91,106.70 L348.37,106.20 L348.81,105.70 L349.23,105.20 L349.61,104.70 L349.92,104.20 L350.24,103.70 L350.56,103.20 L350.85,102.70 L351.09,102.20 L351.26,101.70 L351.39,101.20 L351.49,100.70 L351.57,100.20 L351.66,99.70 L351.74,99.20 L351.83,98.70 L351.95,98.20 L352.09,97.70 L352.27,97.20 L352.48,96.70 L352.70,96.20Z" fill="#78808c" stroke="#000" stroke-opacity="0.3" stroke-width="0.5"/>
<line x1="346.70" y1="110.10" x2="358.70" y2="110.10" stroke="#111" stroke-width="0.9"/>
<circle cx="352.70" cy="68.20" r="0.95" fill="#111"/>
<circle cx="352.70" cy="73.90" r="0.95" fill="#111"/>
<path d="M371.30,60.80 L371.67,61.30 L371.97,61.80 L372.00,62.30 L372.00,62.80 L372.00,63.30 L372.00,63.80 L372.00,64.30 L372.00,64.80 L372.00,65.30 L372.00,65.80 L372.00,66.30 L372.00,66.80 L372.00,67.30 L372.00,67.80 L372.00,68.30 L372.00,68.80 L372.00,69.30 L372.00,69.80 L372.00,70.30 L372.00,70.80 L372.00,71.30 L372.00,71.80 L372.00,72.30 L372.00,72.80 L372.00,73.30 L372.00,73.80 L372.00,74.30 L372.00,74.80 L372.00,75.30 L372.00,75.80 L372.00,76.30 L372.00,76.80 L372.00,77.30 L372.00,77.80 L372.00,78.30 L372.00,78.80 L372.00,79.30 L372.00,79.80 L371.94,80.30 L371.64,80.80 L371.30,81.30 L371.30,81.30 L370.96,80.80 L370.66,80.30 L370.60,79.80 L370.60,79.30 L370.60,78.80 L370.60,78.30 L370.60,77.80 L370.60,77.30 L370.60,76.80 L370.60,76.30 L370.60,75.80 L370.60,75.30 L370.60,74.80 L370.60,74.30 L370.60,73.80 L370.60,73.30 L370.60,72.80 L370.60,72.30 L370.60,71.80 L370.60,71.30 L370.60,70.80 L370.60,70.30 L370.60,69.80 L370.60,69.30 L370.60,68.80 L370.60,68.30 L370.60,67.80 L370.60,67.30 L370.60,66.80 L370.60,66.30 L370.60,65.80 L370.60,65.30 L370.60,64.80 L370.60,64.30 L370.60,63.80 L370.60,63.30 L370.60,62.80 L370.60,62.30 L370.63,61.80 L370.93,61.30 L371.30,60.80Z" fill="#bb1232" stroke="#000" stroke-opacity="0.3" stroke-width="0.5"/>
<path d="M371.30,95.30 L371.48,95.80 L371.66,96.30 L371.83,96.80 L371.99,97.30 L372.14,97.80 L372.28,98.30 L372.39,98.80 L372.49,99.30 L372.58,99.80 L372.68,100.30 L372.78,100.80 L372.91,101.30 L373.07,101.80 L373.28,102.30 L373.61,102.80 L373.99,103.30 L374.38,103.80 L374.74,104.30 L375.06,104.80 L375.40,105.30 L375.76,105.80 L376.12,106.30 L376.48,106.80 L376.82,107.30 L377.13,107.80 L377.41,108.30 L377.63,108.80 L377.79,109.30 L377.88,109.80 L377.89,110.30 L377.76,110.80 L377.52,111.30 L377.19,111.80 L376.80,112.30 L376.36,112.80 L375.91,113.30 L375.47,113.80 L375.06,114.30 L374.72,114.80 L374.44,115.30 L374.18,115.80 L373.93,116.30 L373.69,116.80 L373.46,117.30 L373.24,117.80 L373.02,118.30 L372.81,118.80 L372.60,119.30 L372.38,119.80 L372.17,120.30 L371.97,120.80 L371.77,121.30 L371.57,121.80 L371.38,122.30 L371.30,122.50 L371.30,122.50 L371.22,122.30 L371.03,121.80 L370.83,121.30 L370.63,120.80 L370.43,120.30 L370.22,119.80 L370.00,119.30 L369.79,118.80 L369.58,118.30 L369.36,117.80 L369.14,117.30 L368.91,116.80 L368.67,116.30 L368.42,115.80 L368.16,115.30 L367.88,114.80 L367.54,114.30 L367.13,113.80 L366.69,113.30 L366.24,112.80 L365.80,112.30 L365.41,111.80 L365.08,111.30 L364.84,110.80 L364.71,110.30 L364.72,109.80 L364.81,109.30 L364.97,108.80 L365.19,108.30 L365.47,107.80 L365.78,107.30 L366.12,106.80 L366.48,106.30 L366.84,105.80 L367.20,105.30 L367.54,104.80 L367.86,104.30 L368.22,103.80 L368.61,103.30 L368.99,102.80 L369.32,102.30 L369.53,101.80 L369.69,101.30 L369.82,100.80 L369.92,100.30 L370.02,99.80 L370.11,99.30 L370.21,98.80 L370.32,98.30 L370.46,97.80 L370.61,97.30 L370.77,96.80 L370.94,96.30 L371.12,95.80 L371.30,95.30Z" fill="#bb1232" stroke="#000" stroke-opacity="0.3" stroke-width="0.5"/>
<line x1="365.80" y1="110.10" x2="376.80" y2="110.10" stroke="#111" stroke-width="0.9"/>
<line x1="303.00" y1="46.80" x2="303.00" y2="130.40" stroke="#3c3c3c" stroke-width="1.60"/>
<line x1="302.20" y1="129.60" x2="383.20" y2="129.60" stroke="#3c3c3c" stroke-width="1.60"/>
<text x="343.00" y="41.20" font-size="9.8" text-anchor="middle" textLength="33.5" lengthAdjust="spacingAndGlyphs" fill="#2a2a2a" stroke="#2a2a2a" stroke-width="0.25">Butyrate</text>
<text x="269.90" y="30.60" font-size="11.6" font-weight="bold" fill="#111" stroke="#111" stroke-width="0.3">C</text>
<text transform="translate(277.30,88.10) rotate(-90)" font-size="9.4" text-anchor="middle" textLength="21.4" lengthAdjust="spacingAndGlyphs" fill="#2a2a2a" stroke="#2a2a2a" stroke-width="0.2">umol/L</text>
<line x1="430.00" y1="49.40" x2="432.80" y2="49.40" stroke="#3c3c3c" stroke-width="1.1"/>
<text x="426.60" y="52.10" font-size="8.53" text-anchor="end" textLength="12.88" lengthAdjust="spacingAndGlyphs" fill="#2a2a2a" stroke="#2a2a2a" stroke-width="0.18">150</text>
<line x1="430.00" y1="69.45" x2="432.80" y2="69.45" stroke="#3c3c3c" stroke-width="1.1"/>
<text x="426.60" y="72.15" font-size="8.53" text-anchor="end" textLength="12.88" lengthAdjust="spacingAndGlyphs" fill="#2a2a2a" stroke="#2a2a2a" stroke-width="0.18">100</text>
<line x1="430.00" y1="89.50" x2="432.80" y2="89.50" stroke="#3c3c3c" stroke-width="1.1"/>
<text x="426.60" y="92.20" font-size="8.53" text-anchor="end" textLength="8.48" lengthAdjust="spacingAndGlyphs" fill="#2a2a2a" stroke="#2a2a2a" stroke-width="0.18">50</text>
<line x1="430.00" y1="109.55" x2="432.80" y2="109.55" stroke="#3c3c3c" stroke-width="1.1"/>
<text x="426.60" y="112.25" font-size="8.53" text-anchor="end" textLength="4.09" lengthAdjust="spacingAndGlyphs" fill="#2a2a2a" stroke="#2a2a2a" stroke-width="0.18">0</text>
<line x1="430.00" y1="129.60" x2="432.80" y2="129.60" stroke="#3c3c3c" stroke-width="1.1"/>
<text x="426.60" y="132.30" font-size="8.53" text-anchor="end" textLength="13.10" lengthAdjust="spacingAndGlyphs" fill="#2a2a2a" stroke="#2a2a2a" stroke-width="0.18">−50</text>
<line x1="433.80" y1="110.15" x2="513.20" y2="110.15" stroke="#444" stroke-width="1.0" stroke-dasharray="2 1.9"/>
<path d="M444.80,97.40 L445.15,97.90 L445.39,98.40 L445.41,98.90 L445.42,99.40 L445.43,99.90 L445.44,100.40 L445.44,100.90 L445.45,101.40 L445.45,101.90 L445.45,102.40 L445.45,102.90 L445.46,103.40 L445.46,103.90 L445.47,104.40 L445.47,104.90 L445.48,105.40 L445.50,105.90 L445.60,106.40 L445.92,106.90 L446.38,107.40 L446.92,107.90 L447.78,108.40 L448.90,108.90 L450.04,109.40 L451.40,109.90 L451.05,110.40 L449.10,110.90 L447.80,111.40 L446.64,111.90 L445.62,112.40 L444.80,112.90 L444.80,112.90 L443.98,112.40 L442.96,111.90 L441.80,111.40 L440.50,110.90 L438.55,110.40 L438.20,109.90 L439.56,109.40 L440.70,108.90 L441.82,108.40 L442.68,107.90 L443.22,107.40 L443.68,106.90 L444.00,106.40 L444.10,105.90 L444.12,105.40 L444.13,104.90 L444.13,104.40 L444.14,103.90 L444.14,103.40 L444.15,102.90 L444.15,102.40 L444.15,101.90 L444.15,101.40 L444.16,100.90 L444.16,100.40 L444.17,99.90 L444.18,99.40 L444.19,98.90 L444.21,98.40 L444.45,97.90 L444.80,97.40Z" fill="#2ba6de" stroke="#000" stroke-opacity="0.3" stroke-width="0.5"/>
<path d="M444.80,97.40 L445.15,97.90 L445.39,98.40 L445.41,98.90 L445.42,99.40 L445.43,99.90 L445.44,100.40 L445.44,100.90 L445.45,101.40 L445.45,101.90 L445.45,102.40 L445.45,102.90 L445.46,103.40 L445.46,103.90 L445.47,104.40 L445.47,104.90 L445.48,105.40 L445.50,105.90 L445.60,106.40 L445.92,106.90 L446.38,107.40 L446.92,107.90 L447.78,108.40 L448.90,108.90 L450.04,109.40 L451.40,109.90 L451.05,110.40 L449.10,110.90 L447.80,111.40 L446.64,111.90 L445.62,112.40 L444.80,112.90 L444.80,112.90 L443.98,112.40 L442.96,111.90 L441.80,111.40 L440.50,110.90 L438.55,110.40 L438.20,109.90 L439.56,109.40 L440.70,108.90 L441.82,108.40 L442.68,107.90 L443.22,107.40 L443.68,106.90 L444.00,106.40 L444.10,105.90 L444.12,105.40 L444.13,104.90 L444.13,104.40 L444.14,103.90 L444.14,103.40 L444.15,102.90 L444.15,102.40 L444.15,101.90 L444.15,101.40 L444.16,100.90 L444.16,100.40 L444.17,99.90 L444.18,99.40 L444.19,98.90 L444.21,98.40 L444.45,97.90 L444.80,97.40Z" fill="#000" fill-opacity="0.25"/>
<circle cx="444.80" cy="100.00" r="0.95" fill="#111"/>
<circle cx="444.80" cy="104.50" r="0.95" fill="#111"/>
<circle cx="439.80" cy="110.10" r="0.95" fill="#111"/>
<circle cx="442.30" cy="110.10" r="0.95" fill="#111"/>
<circle cx="444.80" cy="110.10" r="0.95" fill="#111"/>
<circle cx="447.30" cy="110.10" r="0.95" fill="#111"/>
<circle cx="449.80" cy="110.10" r="0.95" fill="#111"/>
<path d="M463.30,83.80 L463.37,84.30 L463.44,84.80 L463.52,85.30 L463.60,85.80 L463.69,86.30 L463.78,86.80 L463.87,87.30 L463.97,87.80 L464.07,88.30 L464.17,88.80 L464.28,89.30 L464.39,89.80 L464.52,90.30 L464.65,90.80 L464.79,91.30 L464.94,91.80 L465.10,92.30 L465.25,92.80 L465.40,93.30 L465.55,93.80 L465.70,94.30 L465.83,94.80 L465.95,95.30 L466.06,95.80 L466.16,96.30 L466.24,96.80 L466.32,97.30 L466.40,97.80 L466.47,98.30 L466.54,98.80 L466.61,99.30 L466.68,99.80 L466.74,100.30 L466.81,100.80 L466.88,101.30 L466.94,101.80 L466.99,102.30 L467.05,102.80 L467.11,103.30 L467.18,103.80 L467.26,104.30 L467.37,104.80 L467.54,105.30 L467.76,105.80 L468.02,106.30 L468.30,106.80 L468.59,107.30 L468.86,107.80 L469.12,108.30 L469.33,108.80 L469.49,109.30 L469.58,109.80 L469.57,110.30 L469.30,110.80 L468.80,111.30 L468.17,111.80 L467.51,112.30 L466.91,112.80 L466.39,113.30 L465.87,113.80 L465.34,114.30 L464.81,114.80 L464.28,115.30 L463.74,115.80 L463.30,116.20 L463.30,116.20 L462.86,115.80 L462.32,115.30 L461.79,114.80 L461.26,114.30 L460.73,113.80 L460.21,113.30 L459.69,112.80 L459.09,112.30 L458.43,111.80 L457.80,111.30 L457.30,110.80 L457.03,110.30 L457.02,109.80 L457.11,109.30 L457.27,108.80 L457.48,108.30 L457.74,107.80 L458.01,107.30 L458.30,106.80 L458.58,106.30 L458.84,105.80 L459.06,105.30 L459.23,104.80 L459.34,104.30 L459.42,103.80 L459.49,103.30 L459.55,102.80 L459.61,102.30 L459.66,101.80 L459.72,101.30 L459.79,100.80 L459.86,100.30 L459.92,99.80 L459.99,99.30 L460.06,98.80 L460.13,98.30 L460.20,97.80 L460.28,97.30 L460.36,96.80 L460.44,96.30 L460.54,95.80 L460.65,95.30 L460.77,94.80 L460.90,94.30 L461.05,93.80 L461.20,93.30 L461.35,92.80 L461.50,92.30 L461.66,91.80 L461.81,91.30 L461.95,90.80 L462.08,90.30 L462.21,89.80 L462.32,89.30 L462.43,88.80 L462.53,88.30 L462.63,87.80 L462.73,87.30 L462.82,86.80 L462.91,86.30 L463.00,85.80 L463.08,85.30 L463.16,84.80 L463.23,84.30 L463.30,83.80Z" fill="#f6b60c" stroke="#000" stroke-opacity="0.3" stroke-width="0.5"/>
<line x1="459.50" y1="104.00" x2="467.10" y2="104.00" stroke="#111" stroke-width="0.9"/>
<circle cx="463.30" cy="89.40" r="0.95" fill="#111"/>
<circle cx="463.30" cy="96.50" r="0.95" fill="#111"/>
<circle cx="461.30" cy="101.00" r="0.95" fill="#111"/>
<circle cx="465.30" cy="101.00" r="0.95" fill="#111"/>
<circle cx="463.30" cy="104.50" r="0.95" fill="#111"/>
<circle cx="461.30" cy="108.00" r="0.95" fill="#111"/>
<circle cx="465.30" cy="108.00" r="0.95" fill="#111"/>
<circle cx="458.30" cy="110.30" r="0.95" fill="#111"/>
<circle cx="468.30" cy="110.30" r="0.95" fill="#111"/>
<path d="M482.00,73.40 L482.34,73.90 L482.59,74.40 L482.60,74.90 L482.61,75.40 L482.61,75.90 L482.62,76.40 L482.62,76.90 L482.63,77.40 L482.63,77.90 L482.63,78.40 L482.63,78.90 L482.64,79.40 L482.64,79.90 L482.64,80.40 L482.64,80.90 L482.64,81.40 L482.65,81.90 L482.65,82.40 L482.65,82.90 L482.65,83.40 L482.65,83.90 L482.65,84.40 L482.65,84.90 L482.65,85.40 L482.65,85.90 L482.65,86.40 L482.65,86.90 L482.65,87.40 L482.65,87.90 L482.65,88.40 L482.65,88.90 L482.65,89.40 L482.65,89.90 L482.65,90.40 L482.65,90.90 L482.65,91.40 L482.66,91.90 L482.66,92.40 L482.66,92.90 L482.66,93.40 L482.66,93.90 L482.66,94.40 L482.66,94.90 L482.67,95.40 L482.67,95.90 L482.67,96.40 L482.67,96.90 L482.68,97.40 L482.68,97.90 L482.68,98.40 L482.69,98.90 L482.69,99.40 L482.70,99.90 L482.76,100.40 L482.97,100.90 L483.27,101.40 L483.62,101.90 L483.94,102.40 L484.23,102.90 L484.52,103.40 L484.82,103.90 L485.13,104.40 L485.45,104.90 L485.79,105.40 L486.16,105.90 L486.64,106.40 L487.18,106.90 L487.66,107.40 L488.00,107.90 L488.09,108.40 L487.78,108.90 L487.16,109.40 L486.38,109.90 L485.61,110.40 L485.00,110.90 L484.53,111.40 L484.08,111.90 L483.65,112.40 L483.25,112.90 L482.87,113.40 L482.53,113.90 L482.22,114.40 L482.00,114.80 L482.00,114.80 L481.78,114.40 L481.47,113.90 L481.13,113.40 L480.75,112.90 L480.35,112.40 L479.92,111.90 L479.47,111.40 L479.00,110.90 L478.39,110.40 L477.62,109.90 L476.84,109.40 L476.22,108.90 L475.91,108.40 L476.00,107.90 L476.34,107.40 L476.82,106.90 L477.36,106.40 L477.84,105.90 L478.21,105.40 L478.55,104.90 L478.87,104.40 L479.18,103.90 L479.48,103.40 L479.77,102.90 L480.06,102.40 L480.38,101.90 L480.73,101.40 L481.03,100.90 L481.24,100.40 L481.30,99.90 L481.31,99.40 L481.31,98.90 L481.32,98.40 L481.32,97.90 L481.32,97.40 L481.33,96.90 L481.33,96.40 L481.33,95.90 L481.33,95.40 L481.34,94.90 L481.34,94.40 L481.34,93.90 L481.34,93.40 L481.34,92.90 L481.34,92.40 L481.34,91.90 L481.35,91.40 L481.35,90.90 L481.35,90.40 L481.35,89.90 L481.35,89.40 L481.35,88.90 L481.35,88.40 L481.35,87.90 L481.35,87.40 L481.35,86.90 L481.35,86.40 L481.35,85.90 L481.35,85.40 L481.35,84.90 L481.35,84.40 L481.35,83.90 L481.35,83.40 L481.35,82.90 L481.35,82.40 L481.35,81.90 L481.36,81.40 L481.36,80.90 L481.36,80.40 L481.36,79.90 L481.36,79.40 L481.37,78.90 L481.37,78.40 L481.37,77.90 L481.37,77.40 L481.38,76.90 L481.38,76.40 L481.39,75.90 L481.39,75.40 L481.40,74.90 L481.41,74.40 L481.66,73.90 L482.00,73.40Z" fill="#78808c" stroke="#000" stroke-opacity="0.3" stroke-width="0.5"/>
<circle cx="482.00" cy="77.30" r="0.95" fill="#111"/>
<circle cx="482.00" cy="88.90" r="0.95" fill="#111"/>
<circle cx="482.00" cy="96.00" r="0.95" fill="#111"/>
<circle cx="480.00" cy="104.00" r="0.95" fill="#111"/>
<circle cx="484.00" cy="104.00" r="0.95" fill="#111"/>
<circle cx="478.00" cy="108.00" r="0.95" fill="#111"/>
<circle cx="482.00" cy="108.00" r="0.95" fill="#111"/>
<circle cx="486.00" cy="108.00" r="0.95" fill="#111"/>
<circle cx="482.00" cy="111.00" r="0.95" fill="#111"/>
<path d="M500.40,99.90 L500.84,100.40 L501.26,100.90 L501.66,101.40 L502.02,101.90 L502.34,102.40 L502.61,102.90 L502.83,103.40 L503.02,103.90 L503.22,104.40 L503.43,104.90 L503.70,105.40 L504.08,105.90 L504.81,106.40 L505.74,106.90 L506.65,107.40 L507.31,107.90 L507.49,108.40 L507.19,108.90 L506.54,109.40 L505.64,109.90 L504.61,110.40 L503.26,110.90 L501.27,111.40 L500.40,111.60 L500.40,111.60 L499.53,111.40 L497.54,110.90 L496.19,110.40 L495.16,109.90 L494.26,109.40 L493.61,108.90 L493.31,108.40 L493.49,107.90 L494.15,107.40 L495.06,106.90 L495.99,106.40 L496.72,105.90 L497.10,105.40 L497.37,104.90 L497.58,104.40 L497.78,103.90 L497.97,103.40 L498.19,102.90 L498.46,102.40 L498.78,101.90 L499.14,101.40 L499.54,100.90 L499.96,100.40 L500.40,99.90Z" fill="#bb1232" stroke="#000" stroke-opacity="0.3" stroke-width="0.5"/>
<circle cx="500.40" cy="102.00" r="0.95" fill="#111"/>
<circle cx="498.40" cy="105.00" r="0.95" fill="#111"/>
<circle cx="502.40" cy="105.00" r="0.95" fill="#111"/>
<circle cx="496.40" cy="108.30" r="0.95" fill="#111"/>
<circle cx="500.40" cy="108.30" r="0.95" fill="#111"/>
<circle cx="504.40" cy="108.30" r="0.95" fill="#111"/>
<line x1="432.80" y1="46.80" x2="432.80" y2="130.40" stroke="#3c3c3c" stroke-width="1.60"/>
<line x1="432.00" y1="129.60" x2="513.20" y2="129.60" stroke="#3c3c3c" stroke-width="1.60"/>
<text x="473.00" y="41.20" font-size="9.8" text-anchor="middle" textLength="36.0" lengthAdjust="spacingAndGlyphs" fill="#2a2a2a" stroke="#2a2a2a" stroke-width="0.25">iButyrate</text>
<text x="399.90" y="30.60" font-size="11.6" font-weight="bold" fill="#111" stroke="#111" stroke-width="0.3">D</text>
<text transform="translate(406.80,88.10) rotate(-90)" font-size="9.4" text-anchor="middle" textLength="21.4" lengthAdjust="spacingAndGlyphs" fill="#2a2a2a" stroke="#2a2a2a" stroke-width="0.2">umol/L</text>
<line x1="42.20" y1="179.30" x2="45.00" y2="179.30" stroke="#3c3c3c" stroke-width="1.1"/>
<text x="38.80" y="182.00" font-size="8.53" text-anchor="end" textLength="4.09" lengthAdjust="spacingAndGlyphs" fill="#2a2a2a" stroke="#2a2a2a" stroke-width="0.18">6</text>
<line x1="42.20" y1="199.32" x2="45.00" y2="199.32" stroke="#3c3c3c" stroke-width="1.1"/>
<text x="38.80" y="202.03" font-size="8.53" text-anchor="end" textLength="4.09" lengthAdjust="spacingAndGlyphs" fill="#2a2a2a" stroke="#2a2a2a" stroke-width="0.18">4</text>
<line x1="42.20" y1="219.35" x2="45.00" y2="219.35" stroke="#3c3c3c" stroke-width="1.1"/>
<text x="38.80" y="222.05" font-size="8.53" text-anchor="end" textLength="4.09" lengthAdjust="spacingAndGlyphs" fill="#2a2a2a" stroke="#2a2a2a" stroke-width="0.18">2</text>
<line x1="42.20" y1="239.38" x2="45.00" y2="239.38" stroke="#3c3c3c" stroke-width="1.1"/>
<text x="38.80" y="242.08" font-size="8.53" text-anchor="end" textLength="4.09" lengthAdjust="spacingAndGlyphs" fill="#2a2a2a" stroke="#2a2a2a" stroke-width="0.18">0</text>
<line x1="42.20" y1="259.40" x2="45.00" y2="259.40" stroke="#3c3c3c" stroke-width="1.1"/>
<text x="38.80" y="262.10" font-size="8.53" text-anchor="end" textLength="8.71" lengthAdjust="spacingAndGlyphs" fill="#2a2a2a" stroke="#2a2a2a" stroke-width="0.18">−2</text>
<line x1="46.00" y1="239.18" x2="124.60" y2="239.18" stroke="#444" stroke-width="1.0" stroke-dasharray="2 1.9"/>
<path d="M57.10,201.50 L57.36,202.00 L57.60,202.50 L57.81,203.00 L57.98,203.50 L58.10,204.00 L58.18,204.50 L58.26,205.00 L58.33,205.50 L58.39,206.00 L58.44,206.50 L58.47,207.00 L58.49,207.50 L58.50,208.00 L58.47,208.50 L58.39,209.00 L58.30,209.50 L58.19,210.00 L58.08,210.50 L57.99,211.00 L57.92,211.50 L57.90,212.00 L57.90,212.50 L57.90,213.00 L57.90,213.50 L57.90,214.00 L57.90,214.50 L57.90,215.00 L57.90,215.50 L57.92,216.00 L57.94,216.50 L57.97,217.00 L58.00,217.50 L58.04,218.00 L58.08,218.50 L58.12,219.00 L58.17,219.50 L58.22,220.00 L58.26,220.50 L58.31,221.00 L58.36,221.50 L58.41,222.00 L58.46,222.50 L58.51,223.00 L58.57,223.50 L58.63,224.00 L58.70,224.50 L58.77,225.00 L58.84,225.50 L58.92,226.00 L59.00,226.50 L59.09,227.00 L59.18,227.50 L59.28,228.00 L59.38,228.50 L59.49,229.00 L59.62,229.50 L59.77,230.00 L59.93,230.50 L60.10,231.00 L60.29,231.50 L60.49,232.00 L60.70,232.50 L60.93,233.00 L61.16,233.50 L61.41,234.00 L61.75,234.50 L62.16,235.00 L62.61,235.50 L63.05,236.00 L63.44,236.50 L63.73,237.00 L63.88,237.50 L63.87,238.00 L63.69,238.50 L63.39,239.00 L63.00,239.50 L62.54,240.00 L62.07,240.50 L61.60,241.00 L61.18,241.50 L60.79,242.00 L60.39,242.50 L59.98,243.00 L59.57,243.50 L59.18,244.00 L58.81,244.50 L58.47,245.00 L58.15,245.50 L57.85,246.00 L57.57,246.50 L57.30,247.00 L57.10,247.40 L57.10,247.40 L56.90,247.00 L56.63,246.50 L56.35,246.00 L56.05,245.50 L55.73,245.00 L55.39,244.50 L55.02,244.00 L54.63,243.50 L54.22,243.00 L53.81,242.50 L53.41,242.00 L53.02,241.50 L52.60,241.00 L52.13,240.50 L51.66,240.00 L51.20,239.50 L50.81,239.00 L50.51,238.50 L50.33,238.00 L50.32,237.50 L50.47,237.00 L50.76,236.50 L51.15,236.00 L51.59,235.50 L52.04,235.00 L52.45,234.50 L52.79,234.00 L53.04,233.50 L53.27,233.00 L53.50,232.50 L53.71,232.00 L53.91,231.50 L54.10,231.00 L54.27,230.50 L54.43,230.00 L54.58,229.50 L54.71,229.00 L54.82,228.50 L54.92,228.00 L55.02,227.50 L55.11,227.00 L55.20,226.50 L55.28,226.00 L55.36,225.50 L55.43,225.00 L55.50,224.50 L55.57,224.00 L55.63,223.50 L55.69,223.00 L55.74,222.50 L55.79,222.00 L55.84,221.50 L55.89,221.00 L55.94,220.50 L55.98,220.00 L56.03,219.50 L56.08,219.00 L56.12,218.50 L56.16,218.00 L56.20,217.50 L56.23,217.00 L56.26,216.50 L56.28,216.00 L56.30,215.50 L56.30,215.00 L56.30,214.50 L56.30,214.00 L56.30,213.50 L56.30,213.00 L56.30,212.50 L56.30,212.00 L56.28,211.50 L56.21,211.00 L56.12,210.50 L56.01,210.00 L55.90,209.50 L55.81,209.00 L55.73,208.50 L55.70,208.00 L55.71,207.50 L55.73,207.00 L55.76,206.50 L55.81,206.00 L55.87,205.50 L55.94,205.00 L56.02,204.50 L56.10,204.00 L56.22,203.50 L56.39,203.00 L56.60,202.50 L56.84,202.00 L57.10,201.50Z" fill="#2ba6de" stroke="#000" stroke-opacity="0.3" stroke-width="0.5"/>
<line x1="52.90" y1="233.30" x2="61.30" y2="233.30" stroke="#111" stroke-width="0.9"/>
<circle cx="57.10" cy="208.00" r="0.95" fill="#111"/>
<circle cx="57.10" cy="221.00" r="0.95" fill="#111"/>
<circle cx="57.10" cy="230.00" r="0.95" fill="#111"/>
<circle cx="55.10" cy="234.00" r="0.95" fill="#111"/>
<circle cx="59.10" cy="234.00" r="0.95" fill="#111"/>
<circle cx="53.10" cy="238.50" r="0.95" fill="#111"/>
<circle cx="57.10" cy="238.50" r="0.95" fill="#111"/>
<circle cx="61.10" cy="238.50" r="0.95" fill="#111"/>
<circle cx="57.10" cy="242.00" r="0.95" fill="#111"/>
<path d="M76.10,221.50 L76.43,222.00 L76.74,222.50 L76.90,223.00 L76.94,223.50 L76.97,224.00 L77.00,224.50 L77.02,225.00 L77.03,225.50 L77.05,226.00 L77.06,226.50 L77.06,227.00 L77.07,227.50 L77.08,228.00 L77.09,228.50 L77.10,229.00 L77.11,229.50 L77.13,230.00 L77.16,230.50 L77.19,231.00 L77.23,231.50 L77.30,232.00 L77.41,232.50 L77.55,233.00 L77.72,233.50 L77.91,234.00 L78.13,234.50 L78.36,235.00 L78.62,235.50 L78.88,236.00 L79.16,236.50 L79.64,237.00 L80.27,237.50 L80.91,238.00 L81.40,238.50 L81.60,239.00 L81.51,239.50 L81.24,240.00 L80.79,240.50 L80.16,241.00 L79.35,241.50 L78.35,242.00 L77.17,242.50 L76.10,242.90 L76.10,242.90 L75.03,242.50 L73.85,242.00 L72.85,241.50 L72.04,241.00 L71.41,240.50 L70.96,240.00 L70.69,239.50 L70.60,239.00 L70.80,238.50 L71.29,238.00 L71.93,237.50 L72.56,237.00 L73.04,236.50 L73.32,236.00 L73.58,235.50 L73.84,235.00 L74.07,234.50 L74.29,234.00 L74.48,233.50 L74.65,233.00 L74.79,232.50 L74.90,232.00 L74.97,231.50 L75.01,231.00 L75.04,230.50 L75.07,230.00 L75.09,229.50 L75.10,229.00 L75.11,228.50 L75.12,228.00 L75.13,227.50 L75.14,227.00 L75.14,226.50 L75.15,226.00 L75.17,225.50 L75.18,225.00 L75.20,224.50 L75.23,224.00 L75.26,223.50 L75.30,223.00 L75.46,222.50 L75.77,222.00 L76.10,221.50Z" fill="#f6b60c" stroke="#000" stroke-opacity="0.3" stroke-width="0.5"/>
<circle cx="76.10" cy="224.00" r="0.95" fill="#111"/>
<circle cx="76.10" cy="232.00" r="0.95" fill="#111"/>
<circle cx="76.10" cy="236.00" r="0.95" fill="#111"/>
<circle cx="72.10" cy="239.00" r="0.95" fill="#111"/>
<circle cx="74.60" cy="239.00" r="0.95" fill="#111"/>
<circle cx="77.60" cy="239.00" r="0.95" fill="#111"/>
<circle cx="80.10" cy="239.00" r="0.95" fill="#111"/>
<path d="M94.20,193.80 L94.63,194.30 L94.70,194.80 L94.70,195.30 L94.70,195.80 L94.70,196.30 L94.70,196.80 L94.70,197.30 L94.70,197.80 L94.70,198.30 L94.70,198.80 L94.56,199.30 L94.20,199.70 L94.20,199.70 L93.84,199.30 L93.70,198.80 L93.70,198.30 L93.70,197.80 L93.70,197.30 L93.70,196.80 L93.70,196.30 L93.70,195.80 L93.70,195.30 L93.70,194.80 L93.77,194.30 L94.20,193.80Z" fill="#78808c" stroke="#000" stroke-opacity="0.3" stroke-width="0.5"/>
<path d="M94.20,222.40 L94.67,222.90 L95.08,223.40 L95.37,223.90 L95.51,224.40 L95.63,224.90 L95.72,225.40 L95.79,225.90 L95.86,226.40 L95.92,226.90 L95.99,227.40 L96.05,227.90 L96.11,228.40 L96.16,228.90 L96.20,229.40 L96.25,229.90 L96.30,230.40 L96.35,230.90 L96.42,231.40 L96.50,231.90 L96.60,232.40 L96.74,232.90 L96.91,233.40 L97.10,233.90 L97.31,234.40 L97.55,234.90 L97.92,235.40 L98.43,235.90 L99.02,236.40 L99.64,236.90 L100.25,237.40 L100.79,237.90 L101.21,238.40 L101.46,238.90 L101.45,239.40 L100.93,239.90 L100.05,240.40 L99.06,240.90 L98.20,241.40 L97.48,241.90 L96.78,242.40 L96.08,242.90 L95.40,243.40 L94.73,243.90 L94.20,244.30 L94.20,244.30 L93.67,243.90 L93.00,243.40 L92.32,242.90 L91.62,242.40 L90.92,241.90 L90.20,241.40 L89.34,240.90 L88.35,240.40 L87.47,239.90 L86.95,239.40 L86.94,238.90 L87.19,238.40 L87.61,237.90 L88.15,237.40 L88.76,236.90 L89.38,236.40 L89.97,235.90 L90.48,235.40 L90.85,234.90 L91.09,234.40 L91.30,233.90 L91.49,233.40 L91.66,232.90 L91.80,232.40 L91.90,231.90 L91.98,231.40 L92.05,230.90 L92.10,230.40 L92.15,229.90 L92.20,229.40 L92.24,228.90 L92.29,228.40 L92.35,227.90 L92.41,227.40 L92.48,226.90 L92.54,226.40 L92.61,225.90 L92.68,225.40 L92.77,224.90 L92.89,224.40 L93.03,223.90 L93.32,223.40 L93.73,222.90 L94.20,222.40Z" fill="#78808c" stroke="#000" stroke-opacity="0.3" stroke-width="0.5"/>
<circle cx="94.20" cy="196.80" r="0.95" fill="#111"/>
<circle cx="94.20" cy="224.00" r="0.95" fill="#111"/>
<circle cx="94.20" cy="227.00" r="0.95" fill="#111"/>
<circle cx="93.20" cy="230.00" r="0.95" fill="#111"/>
<circle cx="95.20" cy="230.00" r="0.95" fill="#111"/>
<circle cx="94.20" cy="233.00" r="0.95" fill="#111"/>
<circle cx="92.20" cy="236.00" r="0.95" fill="#111"/>
<circle cx="96.20" cy="236.00" r="0.95" fill="#111"/>
<circle cx="90.20" cy="239.00" r="0.95" fill="#111"/>
<circle cx="94.20" cy="239.00" r="0.95" fill="#111"/>
<circle cx="98.20" cy="239.00" r="0.95" fill="#111"/>
<path d="M113.00,216.50 L113.37,217.00 L113.70,217.50 L113.90,218.00 L113.99,218.50 L114.06,219.00 L114.12,219.50 L114.16,220.00 L114.20,220.50 L114.23,221.00 L114.27,221.50 L114.30,222.00 L114.34,222.50 L114.39,223.00 L114.44,223.50 L114.50,224.00 L114.56,224.50 L114.62,225.00 L114.68,225.50 L114.74,226.00 L114.80,226.50 L114.87,227.00 L114.93,227.50 L115.00,228.00 L115.07,228.50 L115.13,229.00 L115.20,229.50 L115.27,230.00 L115.34,230.50 L115.42,231.00 L115.50,231.50 L115.60,232.00 L115.71,232.50 L115.82,233.00 L115.95,233.50 L116.09,234.00 L116.24,234.50 L116.42,235.00 L116.60,235.50 L116.81,236.00 L117.07,236.50 L117.50,237.00 L118.01,237.50 L118.52,238.00 L118.94,238.50 L119.18,239.00 L119.11,239.50 L118.65,240.00 L117.92,240.50 L117.11,241.00 L116.36,241.50 L115.63,242.00 L114.86,242.50 L114.04,243.00 L113.18,243.50 L113.00,243.60 L113.00,243.60 L112.82,243.50 L111.96,243.00 L111.14,242.50 L110.37,242.00 L109.64,241.50 L108.89,241.00 L108.08,240.50 L107.35,240.00 L106.89,239.50 L106.82,239.00 L107.06,238.50 L107.48,238.00 L107.99,237.50 L108.50,237.00 L108.93,236.50 L109.19,236.00 L109.40,235.50 L109.58,235.00 L109.76,234.50 L109.91,234.00 L110.05,233.50 L110.18,233.00 L110.29,232.50 L110.40,232.00 L110.50,231.50 L110.58,231.00 L110.66,230.50 L110.73,230.00 L110.80,229.50 L110.87,229.00 L110.93,228.50 L111.00,228.00 L111.07,227.50 L111.13,227.00 L111.20,226.50 L111.26,226.00 L111.32,225.50 L111.38,225.00 L111.44,224.50 L111.50,224.00 L111.56,223.50 L111.61,223.00 L111.66,222.50 L111.70,222.00 L111.73,221.50 L111.77,221.00 L111.80,220.50 L111.84,220.00 L111.88,219.50 L111.94,219.00 L112.01,218.50 L112.10,218.00 L112.30,217.50 L112.63,217.00 L113.00,216.50Z" fill="#bb1232" stroke="#000" stroke-opacity="0.3" stroke-width="0.5"/>
<circle cx="113.00" cy="220.00" r="0.95" fill="#111"/>
<circle cx="113.00" cy="226.00" r="0.95" fill="#111"/>
<circle cx="113.00" cy="231.00" r="0.95" fill="#111"/>
<circle cx="111.00" cy="236.00" r="0.95" fill="#111"/>
<circle cx="115.00" cy="236.00" r="0.95" fill="#111"/>
<circle cx="113.00" cy="239.00" r="0.95" fill="#111"/>
<line x1="45.00" y1="176.70" x2="45.00" y2="260.20" stroke="#3c3c3c" stroke-width="1.60"/>
<line x1="44.20" y1="259.40" x2="124.60" y2="259.40" stroke="#3c3c3c" stroke-width="1.60"/>
<text x="85.00" y="170.30" font-size="9.8" text-anchor="middle" textLength="37.8" lengthAdjust="spacingAndGlyphs" fill="#2a2a2a" stroke="#2a2a2a" stroke-width="0.25">Methanol</text>
<text x="6.70" y="160.60" font-size="11.6" font-weight="bold" fill="#111" stroke="#111" stroke-width="0.3">E</text>
<text transform="translate(23.60,217.40) rotate(-90)" font-size="9.4" text-anchor="middle" textLength="21.4" lengthAdjust="spacingAndGlyphs" fill="#2a2a2a" stroke="#2a2a2a" stroke-width="0.2">umol/L</text>
<line x1="171.20" y1="179.30" x2="174.00" y2="179.30" stroke="#3c3c3c" stroke-width="1.1"/>
<text x="167.80" y="182.00" font-size="8.53" text-anchor="end" textLength="8.48" lengthAdjust="spacingAndGlyphs" fill="#2a2a2a" stroke="#2a2a2a" stroke-width="0.18">30</text>
<line x1="171.20" y1="199.32" x2="174.00" y2="199.32" stroke="#3c3c3c" stroke-width="1.1"/>
<text x="167.80" y="202.03" font-size="8.53" text-anchor="end" textLength="8.48" lengthAdjust="spacingAndGlyphs" fill="#2a2a2a" stroke="#2a2a2a" stroke-width="0.18">20</text>
<line x1="171.20" y1="219.35" x2="174.00" y2="219.35" stroke="#3c3c3c" stroke-width="1.1"/>
<text x="167.80" y="222.05" font-size="8.53" text-anchor="end" textLength="8.48" lengthAdjust="spacingAndGlyphs" fill="#2a2a2a" stroke="#2a2a2a" stroke-width="0.18">10</text>
<line x1="171.20" y1="239.38" x2="174.00" y2="239.38" stroke="#3c3c3c" stroke-width="1.1"/>
<text x="167.80" y="242.08" font-size="8.53" text-anchor="end" textLength="4.09" lengthAdjust="spacingAndGlyphs" fill="#2a2a2a" stroke="#2a2a2a" stroke-width="0.18">0</text>
<line x1="171.20" y1="259.40" x2="174.00" y2="259.40" stroke="#3c3c3c" stroke-width="1.1"/>
<text x="167.80" y="262.10" font-size="8.53" text-anchor="end" textLength="13.10" lengthAdjust="spacingAndGlyphs" fill="#2a2a2a" stroke="#2a2a2a" stroke-width="0.18">−10</text>
<line x1="175.00" y1="239.18" x2="254.40" y2="239.18" stroke="#444" stroke-width="1.0" stroke-dasharray="2 1.9"/>
<path d="M186.40,228.30 L186.78,228.80 L187.14,229.30 L187.50,229.80 L187.83,230.30 L188.18,230.80 L188.57,231.30 L188.96,231.80 L189.32,232.30 L189.60,232.80 L189.77,233.30 L189.76,233.80 L189.39,234.30 L188.83,234.80 L188.35,235.30 L188.21,235.80 L188.62,236.30 L189.46,236.80 L190.53,237.30 L191.63,237.80 L192.59,238.30 L193.19,238.80 L193.24,239.30 L192.56,239.80 L191.26,240.30 L189.46,240.80 L187.32,241.30 L186.40,241.50 L186.40,241.50 L185.48,241.30 L183.34,240.80 L181.54,240.30 L180.24,239.80 L179.56,239.30 L179.61,238.80 L180.21,238.30 L181.17,237.80 L182.27,237.30 L183.34,236.80 L184.18,236.30 L184.59,235.80 L184.45,235.30 L183.97,234.80 L183.41,234.30 L183.04,233.80 L183.03,233.30 L183.20,232.80 L183.48,232.30 L183.84,231.80 L184.23,231.30 L184.62,230.80 L184.97,230.30 L185.30,229.80 L185.66,229.30 L186.02,228.80 L186.40,228.30Z" fill="#2ba6de" stroke="#000" stroke-opacity="0.3" stroke-width="0.5"/>
<circle cx="186.40" cy="230.50" r="0.95" fill="#111"/>
<circle cx="183.90" cy="233.50" r="0.95" fill="#111"/>
<circle cx="186.40" cy="233.50" r="0.95" fill="#111"/>
<circle cx="188.90" cy="233.50" r="0.95" fill="#111"/>
<circle cx="182.40" cy="239.00" r="0.95" fill="#111"/>
<circle cx="184.90" cy="239.00" r="0.95" fill="#111"/>
<circle cx="187.90" cy="239.00" r="0.95" fill="#111"/>
<circle cx="190.40" cy="239.00" r="0.95" fill="#111"/>
<path d="M204.80,215.10 L205.47,215.60 L206.05,216.10 L206.30,216.60 L206.30,217.10 L206.30,217.60 L206.30,218.10 L206.30,218.60 L206.30,219.10 L206.30,219.60 L206.30,220.10 L206.30,220.60 L206.31,221.10 L206.40,221.60 L206.58,222.10 L206.82,222.60 L207.11,223.10 L207.42,223.60 L207.73,224.10 L208.03,224.60 L208.30,225.10 L208.56,225.60 L208.86,226.10 L209.18,226.60 L209.51,227.10 L209.83,227.60 L210.13,228.10 L210.40,228.60 L210.62,229.10 L210.79,229.60 L210.88,230.10 L210.89,230.60 L210.83,231.10 L210.70,231.60 L210.51,232.10 L210.30,232.60 L210.05,233.10 L209.80,233.60 L209.54,234.10 L209.30,234.60 L209.05,235.10 L208.77,235.60 L208.47,236.10 L208.16,236.60 L207.85,237.10 L207.53,237.60 L207.23,238.10 L206.95,238.60 L206.70,239.10 L206.46,239.60 L206.23,240.10 L206.00,240.60 L205.78,241.10 L205.56,241.60 L205.36,242.10 L205.16,242.60 L204.98,243.10 L204.80,243.60 L204.80,243.60 L204.62,243.10 L204.44,242.60 L204.24,242.10 L204.04,241.60 L203.82,241.10 L203.60,240.60 L203.37,240.10 L203.14,239.60 L202.90,239.10 L202.65,238.60 L202.37,238.10 L202.07,237.60 L201.75,237.10 L201.44,236.60 L201.13,236.10 L200.83,235.60 L200.55,235.10 L200.30,234.60 L200.06,234.10 L199.80,233.60 L199.55,233.10 L199.30,232.60 L199.09,232.10 L198.90,231.60 L198.77,231.10 L198.71,230.60 L198.72,230.10 L198.81,229.60 L198.98,229.10 L199.20,228.60 L199.47,228.10 L199.77,227.60 L200.09,227.10 L200.42,226.60 L200.74,226.10 L201.04,225.60 L201.30,225.10 L201.57,224.60 L201.87,224.10 L202.18,223.60 L202.49,223.10 L202.78,222.60 L203.02,222.10 L203.20,221.60 L203.29,221.10 L203.30,220.60 L203.30,220.10 L203.30,219.60 L203.30,219.10 L203.30,218.60 L203.30,218.10 L203.30,217.60 L203.30,217.10 L203.30,216.60 L203.55,216.10 L204.13,215.60 L204.80,215.10Z" fill="#f6b60c" stroke="#000" stroke-opacity="0.3" stroke-width="0.5"/>
<line x1="199.30" y1="229.90" x2="210.30" y2="229.90" stroke="#111" stroke-width="0.9"/>
<circle cx="204.80" cy="216.50" r="0.95" fill="#111"/>
<circle cx="204.80" cy="224.00" r="0.95" fill="#111"/>
<circle cx="202.80" cy="227.50" r="0.95" fill="#111"/>
<circle cx="206.80" cy="227.50" r="0.95" fill="#111"/>
<circle cx="200.80" cy="231.00" r="0.95" fill="#111"/>
<circle cx="203.80" cy="231.00" r="0.95" fill="#111"/>
<circle cx="206.80" cy="231.00" r="0.95" fill="#111"/>
<circle cx="209.30" cy="231.00" r="0.95" fill="#111"/>
<circle cx="201.80" cy="234.50" r="0.95" fill="#111"/>
<circle cx="204.80" cy="235.00" r="0.95" fill="#111"/>
<circle cx="207.80" cy="234.50" r="0.95" fill="#111"/>
<circle cx="204.80" cy="239.00" r="0.95" fill="#111"/>
<path d="M223.20,195.60 L223.55,196.10 L223.70,196.60 L223.70,197.10 L223.70,197.60 L223.70,198.10 L223.70,198.60 L223.70,199.10 L223.70,199.60 L223.70,200.10 L223.70,200.60 L223.70,201.10 L223.70,201.60 L223.70,202.10 L223.70,202.60 L223.70,203.10 L223.59,203.60 L223.20,204.10 L223.20,204.10 L222.81,203.60 L222.70,203.10 L222.70,202.60 L222.70,202.10 L222.70,201.60 L222.70,201.10 L222.70,200.60 L222.70,200.10 L222.70,199.60 L222.70,199.10 L222.70,198.60 L222.70,198.10 L222.70,197.60 L222.70,197.10 L222.70,196.60 L222.85,196.10 L223.20,195.60Z" fill="#78808c" stroke="#000" stroke-opacity="0.3" stroke-width="0.5"/>
<path d="M223.20,219.00 L223.34,219.50 L223.47,220.00 L223.60,220.50 L223.73,221.00 L223.85,221.50 L223.98,222.00 L224.09,222.50 L224.21,223.00 L224.32,223.50 L224.42,224.00 L224.52,224.50 L224.61,225.00 L224.69,225.50 L224.77,226.00 L224.85,226.50 L224.93,227.00 L225.02,227.50 L225.10,228.00 L225.19,228.50 L225.29,229.00 L225.40,229.50 L225.52,230.00 L225.63,230.50 L225.76,231.00 L225.90,231.50 L226.04,232.00 L226.20,232.50 L226.38,233.00 L226.57,233.50 L226.80,234.00 L227.15,234.50 L227.60,235.00 L228.11,235.50 L228.63,236.00 L229.12,236.50 L229.52,237.00 L229.80,237.50 L229.90,238.00 L229.72,238.50 L229.24,239.00 L228.57,239.50 L227.81,240.00 L227.08,240.50 L226.46,241.00 L225.87,241.50 L225.27,242.00 L224.67,242.50 L224.06,243.00 L223.45,243.50 L223.20,243.70 L223.20,243.70 L222.95,243.50 L222.34,243.00 L221.73,242.50 L221.13,242.00 L220.53,241.50 L219.94,241.00 L219.32,240.50 L218.59,240.00 L217.83,239.50 L217.16,239.00 L216.68,238.50 L216.50,238.00 L216.60,237.50 L216.88,237.00 L217.28,236.50 L217.77,236.00 L218.29,235.50 L218.80,235.00 L219.25,234.50 L219.60,234.00 L219.83,233.50 L220.02,233.00 L220.20,232.50 L220.36,232.00 L220.50,231.50 L220.64,231.00 L220.77,230.50 L220.88,230.00 L221.00,229.50 L221.11,229.00 L221.21,228.50 L221.30,228.00 L221.38,227.50 L221.47,227.00 L221.55,226.50 L221.63,226.00 L221.71,225.50 L221.79,225.00 L221.88,224.50 L221.98,224.00 L222.08,223.50 L222.19,223.00 L222.31,222.50 L222.42,222.00 L222.55,221.50 L222.67,221.00 L222.80,220.50 L222.93,220.00 L223.06,219.50 L223.20,219.00Z" fill="#78808c" stroke="#000" stroke-opacity="0.3" stroke-width="0.5"/>
<circle cx="223.20" cy="199.50" r="0.95" fill="#111"/>
<circle cx="223.20" cy="221.00" r="0.95" fill="#111"/>
<circle cx="223.20" cy="225.00" r="0.95" fill="#111"/>
<circle cx="223.20" cy="229.00" r="0.95" fill="#111"/>
<circle cx="221.70" cy="232.00" r="0.95" fill="#111"/>
<circle cx="224.70" cy="232.00" r="0.95" fill="#111"/>
<circle cx="220.70" cy="235.00" r="0.95" fill="#111"/>
<circle cx="223.20" cy="235.00" r="0.95" fill="#111"/>
<circle cx="225.70" cy="235.00" r="0.95" fill="#111"/>
<circle cx="219.20" cy="238.00" r="0.95" fill="#111"/>
<circle cx="223.20" cy="238.00" r="0.95" fill="#111"/>
<circle cx="227.20" cy="238.00" r="0.95" fill="#111"/>
<path d="M242.00,231.00 L242.69,231.50 L243.31,232.00 L243.77,232.50 L243.99,233.00 L243.99,233.50 L243.95,234.00 L243.90,234.50 L243.85,235.00 L243.81,235.50 L243.82,236.00 L244.38,236.50 L245.47,237.00 L246.77,237.50 L247.93,238.00 L248.63,238.50 L248.52,239.00 L247.53,239.50 L245.80,240.00 L243.54,240.50 L242.00,240.80 L242.00,240.80 L240.46,240.50 L238.20,240.00 L236.47,239.50 L235.48,239.00 L235.37,238.50 L236.07,238.00 L237.23,237.50 L238.53,237.00 L239.62,236.50 L240.18,236.00 L240.19,235.50 L240.15,235.00 L240.10,234.50 L240.05,234.00 L240.01,233.50 L240.01,233.00 L240.23,232.50 L240.69,232.00 L241.31,231.50 L242.00,231.00Z" fill="#bb1232" stroke="#000" stroke-opacity="0.3" stroke-width="0.5"/>
<path d="M242.00,231.00 L242.69,231.50 L243.31,232.00 L243.77,232.50 L243.99,233.00 L243.99,233.50 L243.95,234.00 L243.90,234.50 L243.85,235.00 L243.81,235.50 L243.82,236.00 L244.38,236.50 L245.47,237.00 L246.77,237.50 L247.93,238.00 L248.63,238.50 L248.52,239.00 L247.53,239.50 L245.80,240.00 L243.54,240.50 L242.00,240.80 L242.00,240.80 L240.46,240.50 L238.20,240.00 L236.47,239.50 L235.48,239.00 L235.37,238.50 L236.07,238.00 L237.23,237.50 L238.53,237.00 L239.62,236.50 L240.18,236.00 L240.19,235.50 L240.15,235.00 L240.10,234.50 L240.05,234.00 L240.01,233.50 L240.01,233.00 L240.23,232.50 L240.69,232.00 L241.31,231.50 L242.00,231.00Z" fill="#000" fill-opacity="0.30"/>
<circle cx="242.00" cy="224.60" r="0.95" fill="#111"/>
<circle cx="242.00" cy="233.00" r="0.95" fill="#111"/>
<circle cx="239.00" cy="238.50" r="0.95" fill="#111"/>
<circle cx="242.00" cy="238.50" r="0.95" fill="#111"/>
<circle cx="245.00" cy="238.50" r="0.95" fill="#111"/>
<line x1="174.00" y1="176.70" x2="174.00" y2="260.20" stroke="#3c3c3c" stroke-width="1.60"/>
<line x1="173.20" y1="259.40" x2="254.40" y2="259.40" stroke="#3c3c3c" stroke-width="1.60"/>
<text x="215.00" y="170.30" font-size="9.8" text-anchor="middle" textLength="30.5" lengthAdjust="spacingAndGlyphs" fill="#2a2a2a" stroke="#2a2a2a" stroke-width="0.25">Ethanol</text>
<text x="140.30" y="160.60" font-size="11.6" font-weight="bold" fill="#111" stroke="#111" stroke-width="0.3">F</text>
<text transform="translate(148.60,217.40) rotate(-90)" font-size="9.4" text-anchor="middle" textLength="21.4" lengthAdjust="spacingAndGlyphs" fill="#2a2a2a" stroke="#2a2a2a" stroke-width="0.2">umol/L</text>
<line x1="300.20" y1="179.30" x2="303.00" y2="179.30" stroke="#3c3c3c" stroke-width="1.1"/>
<text x="296.80" y="182.00" font-size="8.53" text-anchor="end" textLength="8.48" lengthAdjust="spacingAndGlyphs" fill="#2a2a2a" stroke="#2a2a2a" stroke-width="0.18">30</text>
<line x1="300.20" y1="199.32" x2="303.00" y2="199.32" stroke="#3c3c3c" stroke-width="1.1"/>
<text x="296.80" y="202.03" font-size="8.53" text-anchor="end" textLength="8.48" lengthAdjust="spacingAndGlyphs" fill="#2a2a2a" stroke="#2a2a2a" stroke-width="0.18">20</text>
<line x1="300.20" y1="219.35" x2="303.00" y2="219.35" stroke="#3c3c3c" stroke-width="1.1"/>
<text x="296.80" y="222.05" font-size="8.53" text-anchor="end" textLength="8.48" lengthAdjust="spacingAndGlyphs" fill="#2a2a2a" stroke="#2a2a2a" stroke-width="0.18">10</text>
<line x1="300.20" y1="239.38" x2="303.00" y2="239.38" stroke="#3c3c3c" stroke-width="1.1"/>
<text x="296.80" y="242.08" font-size="8.53" text-anchor="end" textLength="4.09" lengthAdjust="spacingAndGlyphs" fill="#2a2a2a" stroke="#2a2a2a" stroke-width="0.18">0</text>
<line x1="300.20" y1="259.40" x2="303.00" y2="259.40" stroke="#3c3c3c" stroke-width="1.1"/>
<text x="296.80" y="262.10" font-size="8.53" text-anchor="end" textLength="13.10" lengthAdjust="spacingAndGlyphs" fill="#2a2a2a" stroke="#2a2a2a" stroke-width="0.18">−10</text>
<line x1="304.00" y1="238.97" x2="384.40" y2="238.97" stroke="#444" stroke-width="1.0" stroke-dasharray="2 1.9"/>
<path d="M315.60,235.90 L316.65,236.40 L317.85,236.90 L319.44,237.40 L321.39,237.90 L322.56,238.40 L321.96,238.90 L319.98,239.40 L317.55,239.90 L315.60,240.20 L315.60,240.20 L313.65,239.90 L311.22,239.40 L309.24,238.90 L308.64,238.40 L309.81,237.90 L311.76,237.40 L313.35,236.90 L314.55,236.40 L315.60,235.90Z" fill="#2ba6de" stroke="#000" stroke-opacity="0.3" stroke-width="0.5"/>
<path d="M315.60,235.90 L316.65,236.40 L317.85,236.90 L319.44,237.40 L321.39,237.90 L322.56,238.40 L321.96,238.90 L319.98,239.40 L317.55,239.90 L315.60,240.20 L315.60,240.20 L313.65,239.90 L311.22,239.40 L309.24,238.90 L308.64,238.40 L309.81,237.90 L311.76,237.40 L313.35,236.90 L314.55,236.40 L315.60,235.90Z" fill="#000" fill-opacity="0.55"/>
<circle cx="315.60" cy="198.80" r="0.95" fill="#111"/>
<path d="M334.00,216.30 L334.89,216.80 L335.42,217.30 L335.60,217.80 L335.42,218.30 L334.89,218.80 L334.00,219.30 L334.00,219.30 L333.11,218.80 L332.58,218.30 L332.40,217.80 L332.58,217.30 L333.11,216.80 L334.00,216.30Z" fill="#f6b60c" stroke="#000" stroke-opacity="0.3" stroke-width="0.5"/>
<path d="M334.00,235.00 L337.47,235.50 L339.11,236.00 L339.59,236.50 L339.93,237.00 L340.13,237.50 L340.20,238.00 L340.14,238.50 L339.95,239.00 L339.62,239.50 L339.12,240.00 L336.74,240.50 L334.00,240.80 L334.00,240.80 L331.26,240.50 L328.88,240.00 L328.38,239.50 L328.05,239.00 L327.86,238.50 L327.80,238.00 L327.87,237.50 L328.07,237.00 L328.41,236.50 L328.89,236.00 L330.53,235.50 L334.00,235.00Z" fill="#f6b60c" stroke="#000" stroke-opacity="0.3" stroke-width="0.5"/>
<line x1="328.00" y1="238.50" x2="340.00" y2="238.50" stroke="#111" stroke-width="0.9"/>
<circle cx="334.00" cy="217.80" r="0.95" fill="#111"/>
<circle cx="334.00" cy="233.80" r="0.95" fill="#111"/>
<circle cx="330.00" cy="236.50" r="0.95" fill="#111"/>
<circle cx="332.50" cy="236.50" r="0.95" fill="#111"/>
<circle cx="335.50" cy="236.50" r="0.95" fill="#111"/>
<circle cx="338.00" cy="236.50" r="0.95" fill="#111"/>
<circle cx="330.00" cy="239.00" r="0.95" fill="#111"/>
<circle cx="334.00" cy="239.00" r="0.95" fill="#111"/>
<circle cx="338.00" cy="239.00" r="0.95" fill="#111"/>
<path d="M352.70,228.50 L353.08,229.00 L353.30,229.50 L353.34,230.00 L353.36,230.50 L353.38,231.00 L353.39,231.50 L353.40,232.00 L353.40,232.50 L353.41,233.00 L353.42,233.50 L353.44,234.00 L353.46,234.50 L353.50,235.00 L353.69,235.50 L354.12,236.00 L354.70,236.50 L356.20,237.00 L358.32,237.50 L359.40,238.00 L359.00,238.50 L358.02,239.00 L356.80,239.50 L355.70,240.00 L354.77,240.50 L353.83,241.00 L352.89,241.50 L352.70,241.60 L352.70,241.60 L352.51,241.50 L351.57,241.00 L350.63,240.50 L349.70,240.00 L348.60,239.50 L347.38,239.00 L346.40,238.50 L346.00,238.00 L347.08,237.50 L349.20,237.00 L350.70,236.50 L351.28,236.00 L351.71,235.50 L351.90,235.00 L351.94,234.50 L351.96,234.00 L351.98,233.50 L351.99,233.00 L352.00,232.50 L352.00,232.00 L352.01,231.50 L352.02,231.00 L352.04,230.50 L352.06,230.00 L352.10,229.50 L352.32,229.00 L352.70,228.50Z" fill="#78808c" stroke="#000" stroke-opacity="0.3" stroke-width="0.5"/>
<path d="M352.70,228.50 L353.08,229.00 L353.30,229.50 L353.34,230.00 L353.36,230.50 L353.38,231.00 L353.39,231.50 L353.40,232.00 L353.40,232.50 L353.41,233.00 L353.42,233.50 L353.44,234.00 L353.46,234.50 L353.50,235.00 L353.69,235.50 L354.12,236.00 L354.70,236.50 L356.20,237.00 L358.32,237.50 L359.40,238.00 L359.00,238.50 L358.02,239.00 L356.80,239.50 L355.70,240.00 L354.77,240.50 L353.83,241.00 L352.89,241.50 L352.70,241.60 L352.70,241.60 L352.51,241.50 L351.57,241.00 L350.63,240.50 L349.70,240.00 L348.60,239.50 L347.38,239.00 L346.40,238.50 L346.00,238.00 L347.08,237.50 L349.20,237.00 L350.70,236.50 L351.28,236.00 L351.71,235.50 L351.90,235.00 L351.94,234.50 L351.96,234.00 L351.98,233.50 L351.99,233.00 L352.00,232.50 L352.00,232.00 L352.01,231.50 L352.02,231.00 L352.04,230.50 L352.06,230.00 L352.10,229.50 L352.32,229.00 L352.70,228.50Z" fill="#000" fill-opacity="0.55"/>
<circle cx="352.70" cy="197.10" r="0.95" fill="#111"/>
<circle cx="352.70" cy="229.50" r="0.95" fill="#111"/>
<circle cx="352.70" cy="233.00" r="0.95" fill="#111"/>
<path d="M371.10,216.00 L371.48,216.50 L371.70,217.00 L371.72,217.50 L371.73,218.00 L371.74,218.50 L371.75,219.00 L371.76,219.50 L371.77,220.00 L371.78,220.50 L371.78,221.00 L371.79,221.50 L371.79,222.00 L371.79,222.50 L371.80,223.00 L371.80,223.50 L371.80,224.00 L371.80,224.50 L371.80,225.00 L371.80,225.50 L371.81,226.00 L371.81,226.50 L371.81,227.00 L371.81,227.50 L371.81,228.00 L371.81,228.50 L371.82,229.00 L371.82,229.50 L371.82,230.00 L371.83,230.50 L371.84,231.00 L371.84,231.50 L371.85,232.00 L371.86,232.50 L371.87,233.00 L371.89,233.50 L371.90,234.00 L371.97,234.50 L372.14,235.00 L372.39,235.50 L372.72,236.00 L373.10,236.50 L374.06,237.00 L375.65,237.50 L377.14,238.00 L377.80,238.50 L377.43,239.00 L376.51,239.50 L375.31,240.00 L374.10,240.50 L372.85,241.00 L371.40,241.50 L371.10,241.60 L371.10,241.60 L370.80,241.50 L369.35,241.00 L368.10,240.50 L366.89,240.00 L365.69,239.50 L364.77,239.00 L364.40,238.50 L365.06,238.00 L366.55,237.50 L368.14,237.00 L369.10,236.50 L369.48,236.00 L369.81,235.50 L370.06,235.00 L370.23,234.50 L370.30,234.00 L370.31,233.50 L370.33,233.00 L370.34,232.50 L370.35,232.00 L370.36,231.50 L370.36,231.00 L370.37,230.50 L370.38,230.00 L370.38,229.50 L370.38,229.00 L370.39,228.50 L370.39,228.00 L370.39,227.50 L370.39,227.00 L370.39,226.50 L370.39,226.00 L370.40,225.50 L370.40,225.00 L370.40,224.50 L370.40,224.00 L370.40,223.50 L370.40,223.00 L370.41,222.50 L370.41,222.00 L370.41,221.50 L370.42,221.00 L370.42,220.50 L370.43,220.00 L370.44,219.50 L370.45,219.00 L370.46,218.50 L370.47,218.00 L370.48,217.50 L370.50,217.00 L370.72,216.50 L371.10,216.00Z" fill="#bb1232" stroke="#000" stroke-opacity="0.3" stroke-width="0.5"/>
<path d="M371.10,216.00 L371.48,216.50 L371.70,217.00 L371.72,217.50 L371.73,218.00 L371.74,218.50 L371.75,219.00 L371.76,219.50 L371.77,220.00 L371.78,220.50 L371.78,221.00 L371.79,221.50 L371.79,222.00 L371.79,222.50 L371.80,223.00 L371.80,223.50 L371.80,224.00 L371.80,224.50 L371.80,225.00 L371.80,225.50 L371.81,226.00 L371.81,226.50 L371.81,227.00 L371.81,227.50 L371.81,228.00 L371.81,228.50 L371.82,229.00 L371.82,229.50 L371.82,230.00 L371.83,230.50 L371.84,231.00 L371.84,231.50 L371.85,232.00 L371.86,232.50 L371.87,233.00 L371.89,233.50 L371.90,234.00 L371.97,234.50 L372.14,235.00 L372.39,235.50 L372.72,236.00 L373.10,236.50 L374.06,237.00 L375.65,237.50 L377.14,238.00 L377.80,238.50 L377.43,239.00 L376.51,239.50 L375.31,240.00 L374.10,240.50 L372.85,241.00 L371.40,241.50 L371.10,241.60 L371.10,241.60 L370.80,241.50 L369.35,241.00 L368.10,240.50 L366.89,240.00 L365.69,239.50 L364.77,239.00 L364.40,238.50 L365.06,238.00 L366.55,237.50 L368.14,237.00 L369.10,236.50 L369.48,236.00 L369.81,235.50 L370.06,235.00 L370.23,234.50 L370.30,234.00 L370.31,233.50 L370.33,233.00 L370.34,232.50 L370.35,232.00 L370.36,231.50 L370.36,231.00 L370.37,230.50 L370.38,230.00 L370.38,229.50 L370.38,229.00 L370.39,228.50 L370.39,228.00 L370.39,227.50 L370.39,227.00 L370.39,226.50 L370.39,226.00 L370.40,225.50 L370.40,225.00 L370.40,224.50 L370.40,224.00 L370.40,223.50 L370.40,223.00 L370.41,222.50 L370.41,222.00 L370.41,221.50 L370.42,221.00 L370.42,220.50 L370.43,220.00 L370.44,219.50 L370.45,219.00 L370.46,218.50 L370.47,218.00 L370.48,217.50 L370.50,217.00 L370.72,216.50 L371.10,216.00Z" fill="#000" fill-opacity="0.40"/>
<circle cx="371.10" cy="216.10" r="0.95" fill="#111"/>
<circle cx="371.10" cy="223.00" r="0.95" fill="#111"/>
<circle cx="371.10" cy="229.00" r="0.95" fill="#111"/>
<circle cx="371.10" cy="233.00" r="0.95" fill="#111"/>
<line x1="303.00" y1="176.70" x2="303.00" y2="260.20" stroke="#3c3c3c" stroke-width="1.60"/>
<line x1="302.20" y1="259.40" x2="384.40" y2="259.40" stroke="#3c3c3c" stroke-width="1.60"/>
<text x="343.00" y="170.30" font-size="9.8" text-anchor="middle" textLength="31.3" lengthAdjust="spacingAndGlyphs" fill="#2a2a2a" stroke="#2a2a2a" stroke-width="0.25">Lactate</text>
<text x="270.30" y="160.60" font-size="11.6" font-weight="bold" fill="#111" stroke="#111" stroke-width="0.3">G</text>
<text transform="translate(277.30,217.40) rotate(-90)" font-size="9.4" text-anchor="middle" textLength="21.4" lengthAdjust="spacingAndGlyphs" fill="#2a2a2a" stroke="#2a2a2a" stroke-width="0.2">umol/L</text>
<line x1="429.80" y1="179.30" x2="432.60" y2="179.30" stroke="#3c3c3c" stroke-width="1.1"/>
<text x="426.40" y="182.00" font-size="8.53" text-anchor="end" textLength="12.88" lengthAdjust="spacingAndGlyphs" fill="#2a2a2a" stroke="#2a2a2a" stroke-width="0.18">200</text>
<line x1="429.80" y1="195.32" x2="432.60" y2="195.32" stroke="#3c3c3c" stroke-width="1.1"/>
<text x="426.40" y="198.02" font-size="8.53" text-anchor="end" textLength="12.88" lengthAdjust="spacingAndGlyphs" fill="#2a2a2a" stroke="#2a2a2a" stroke-width="0.18">150</text>
<line x1="429.80" y1="211.34" x2="432.60" y2="211.34" stroke="#3c3c3c" stroke-width="1.1"/>
<text x="426.40" y="214.04" font-size="8.53" text-anchor="end" textLength="12.88" lengthAdjust="spacingAndGlyphs" fill="#2a2a2a" stroke="#2a2a2a" stroke-width="0.18">100</text>
<line x1="429.80" y1="227.36" x2="432.60" y2="227.36" stroke="#3c3c3c" stroke-width="1.1"/>
<text x="426.40" y="230.06" font-size="8.53" text-anchor="end" textLength="8.48" lengthAdjust="spacingAndGlyphs" fill="#2a2a2a" stroke="#2a2a2a" stroke-width="0.18">50</text>
<line x1="429.80" y1="243.38" x2="432.60" y2="243.38" stroke="#3c3c3c" stroke-width="1.1"/>
<text x="426.40" y="246.08" font-size="8.53" text-anchor="end" textLength="4.09" lengthAdjust="spacingAndGlyphs" fill="#2a2a2a" stroke="#2a2a2a" stroke-width="0.18">0</text>
<line x1="429.80" y1="259.40" x2="432.60" y2="259.40" stroke="#3c3c3c" stroke-width="1.1"/>
<text x="426.40" y="262.10" font-size="8.53" text-anchor="end" textLength="13.10" lengthAdjust="spacingAndGlyphs" fill="#2a2a2a" stroke="#2a2a2a" stroke-width="0.18">−50</text>
<line x1="433.60" y1="243.18" x2="513.00" y2="243.18" stroke="#444" stroke-width="1.0" stroke-dasharray="2 1.9"/>
<path d="M444.20,242.10 L450.53,242.60 L451.47,243.10 L451.04,243.60 L448.63,244.10 L444.20,244.40 L444.20,244.40 L439.77,244.10 L437.36,243.60 L436.93,243.10 L437.87,242.60 L444.20,242.10Z" fill="#2ba6de" stroke="#000" stroke-opacity="0.3" stroke-width="0.5"/>
<path d="M444.20,242.10 L450.53,242.60 L451.47,243.10 L451.04,243.60 L448.63,244.10 L444.20,244.40 L444.20,244.40 L439.77,244.10 L437.36,243.60 L436.93,243.10 L437.87,242.60 L444.20,242.10Z" fill="#000" fill-opacity="0.70"/>
<path d="M463.20,242.10 L468.84,242.60 L469.19,243.10 L469.03,243.60 L467.40,244.10 L463.20,244.40 L463.20,244.40 L459.00,244.10 L457.37,243.60 L457.21,243.10 L457.56,242.60 L463.20,242.10Z" fill="#f6b60c" stroke="#000" stroke-opacity="0.3" stroke-width="0.5"/>
<path d="M463.20,242.10 L468.84,242.60 L469.19,243.10 L469.03,243.60 L467.40,244.10 L463.20,244.40 L463.20,244.40 L459.00,244.10 L457.37,243.60 L457.21,243.10 L457.56,242.60 L463.20,242.10Z" fill="#000" fill-opacity="0.65"/>
<circle cx="463.20" cy="232.70" r="0.95" fill="#111"/>
<path d="M482.00,195.60 L482.36,196.10 L482.50,196.60 L482.50,197.10 L482.50,197.60 L482.50,198.10 L482.50,198.60 L482.50,199.10 L482.50,199.60 L482.39,200.10 L482.00,200.60 L482.00,200.60 L481.61,200.10 L481.50,199.60 L481.50,199.10 L481.50,198.60 L481.50,198.10 L481.50,197.60 L481.50,197.10 L481.50,196.60 L481.64,196.10 L482.00,195.60Z" fill="#78808c" stroke="#000" stroke-opacity="0.3" stroke-width="0.5"/>
<path d="M482.00,195.60 L482.36,196.10 L482.50,196.60 L482.50,197.10 L482.50,197.60 L482.50,198.10 L482.50,198.60 L482.50,199.10 L482.50,199.60 L482.39,200.10 L482.00,200.60 L482.00,200.60 L481.61,200.10 L481.50,199.60 L481.50,199.10 L481.50,198.60 L481.50,198.10 L481.50,197.60 L481.50,197.10 L481.50,196.60 L481.64,196.10 L482.00,195.60Z" fill="#000" fill-opacity="0.10"/>
<path d="M482.00,218.00 L482.38,218.50 L482.60,219.00 L482.62,219.50 L482.64,220.00 L482.65,220.50 L482.66,221.00 L482.67,221.50 L482.68,222.00 L482.69,222.50 L482.69,223.00 L482.69,223.50 L482.70,224.00 L482.70,224.50 L482.70,225.00 L482.70,225.50 L482.70,226.00 L482.71,226.50 L482.71,227.00 L482.71,227.50 L482.72,228.00 L482.73,228.50 L482.74,229.00 L482.75,229.50 L482.76,230.00 L482.78,230.50 L482.80,231.00 L483.16,231.50 L483.92,232.00 L484.63,232.50 L485.37,233.00 L486.19,233.50 L486.98,234.00 L487.61,234.50 L487.97,235.00 L487.98,235.50 L487.87,236.00 L487.68,236.50 L487.44,237.00 L487.16,237.50 L486.87,238.00 L486.60,238.50 L486.35,239.00 L486.11,239.50 L485.86,240.00 L485.59,240.50 L485.32,241.00 L485.02,241.50 L484.70,242.00 L484.36,242.50 L483.97,243.00 L483.55,243.50 L483.09,244.00 L482.61,244.50 L482.10,245.00 L482.00,245.10 L482.00,245.10 L481.90,245.00 L481.39,244.50 L480.91,244.00 L480.45,243.50 L480.03,243.00 L479.64,242.50 L479.30,242.00 L478.98,241.50 L478.68,241.00 L478.41,240.50 L478.14,240.00 L477.89,239.50 L477.65,239.00 L477.40,238.50 L477.13,238.00 L476.84,237.50 L476.56,237.00 L476.32,236.50 L476.13,236.00 L476.02,235.50 L476.03,235.00 L476.39,234.50 L477.02,234.00 L477.81,233.50 L478.63,233.00 L479.37,232.50 L480.08,232.00 L480.84,231.50 L481.20,231.00 L481.22,230.50 L481.24,230.00 L481.25,229.50 L481.26,229.00 L481.27,228.50 L481.28,228.00 L481.29,227.50 L481.29,227.00 L481.29,226.50 L481.30,226.00 L481.30,225.50 L481.30,225.00 L481.30,224.50 L481.30,224.00 L481.31,223.50 L481.31,223.00 L481.31,222.50 L481.32,222.00 L481.33,221.50 L481.34,221.00 L481.35,220.50 L481.36,220.00 L481.38,219.50 L481.40,219.00 L481.62,218.50 L482.00,218.00Z" fill="#78808c" stroke="#000" stroke-opacity="0.3" stroke-width="0.5"/>
<path d="M482.00,218.00 L482.38,218.50 L482.60,219.00 L482.62,219.50 L482.64,220.00 L482.65,220.50 L482.66,221.00 L482.67,221.50 L482.68,222.00 L482.69,222.50 L482.69,223.00 L482.69,223.50 L482.70,224.00 L482.70,224.50 L482.70,225.00 L482.70,225.50 L482.70,226.00 L482.71,226.50 L482.71,227.00 L482.71,227.50 L482.72,228.00 L482.73,228.50 L482.74,229.00 L482.75,229.50 L482.76,230.00 L482.78,230.50 L482.80,231.00 L483.16,231.50 L483.92,232.00 L484.63,232.50 L485.37,233.00 L486.19,233.50 L486.98,234.00 L487.61,234.50 L487.97,235.00 L487.98,235.50 L487.87,236.00 L487.68,236.50 L487.44,237.00 L487.16,237.50 L486.87,238.00 L486.60,238.50 L486.35,239.00 L486.11,239.50 L485.86,240.00 L485.59,240.50 L485.32,241.00 L485.02,241.50 L484.70,242.00 L484.36,242.50 L483.97,243.00 L483.55,243.50 L483.09,244.00 L482.61,244.50 L482.10,245.00 L482.00,245.10 L482.00,245.10 L481.90,245.00 L481.39,244.50 L480.91,244.00 L480.45,243.50 L480.03,243.00 L479.64,242.50 L479.30,242.00 L478.98,241.50 L478.68,241.00 L478.41,240.50 L478.14,240.00 L477.89,239.50 L477.65,239.00 L477.40,238.50 L477.13,238.00 L476.84,237.50 L476.56,237.00 L476.32,236.50 L476.13,236.00 L476.02,235.50 L476.03,235.00 L476.39,234.50 L477.02,234.00 L477.81,233.50 L478.63,233.00 L479.37,232.50 L480.08,232.00 L480.84,231.50 L481.20,231.00 L481.22,230.50 L481.24,230.00 L481.25,229.50 L481.26,229.00 L481.27,228.50 L481.28,228.00 L481.29,227.50 L481.29,227.00 L481.29,226.50 L481.30,226.00 L481.30,225.50 L481.30,225.00 L481.30,224.50 L481.30,224.00 L481.31,223.50 L481.31,223.00 L481.31,222.50 L481.32,222.00 L481.33,221.50 L481.34,221.00 L481.35,220.50 L481.36,220.00 L481.38,219.50 L481.40,219.00 L481.62,218.50 L482.00,218.00Z" fill="#000" fill-opacity="0.10"/>
<circle cx="482.00" cy="198.00" r="0.95" fill="#111"/>
<circle cx="482.00" cy="221.00" r="0.95" fill="#111"/>
<circle cx="482.00" cy="228.00" r="0.95" fill="#111"/>
<circle cx="480.00" cy="233.00" r="0.95" fill="#111"/>
<circle cx="484.00" cy="233.00" r="0.95" fill="#111"/>
<circle cx="478.00" cy="235.50" r="0.95" fill="#111"/>
<circle cx="482.00" cy="235.50" r="0.95" fill="#111"/>
<circle cx="486.00" cy="235.50" r="0.95" fill="#111"/>
<circle cx="480.00" cy="238.50" r="0.95" fill="#111"/>
<circle cx="484.00" cy="238.50" r="0.95" fill="#111"/>
<circle cx="482.00" cy="241.00" r="0.95" fill="#111"/>
<path d="M500.00,237.50 L500.45,238.00 L500.87,238.50 L501.24,239.00 L501.56,239.50 L501.78,240.00 L501.95,240.50 L502.16,241.00 L502.50,241.50 L503.80,242.00 L505.78,242.50 L506.80,243.00 L505.32,243.50 L503.00,244.00 L501.41,244.50 L500.00,245.00 L500.00,245.00 L498.59,244.50 L497.00,244.00 L494.68,243.50 L493.20,243.00 L494.22,242.50 L496.20,242.00 L497.50,241.50 L497.84,241.00 L498.05,240.50 L498.22,240.00 L498.44,239.50 L498.76,239.00 L499.13,238.50 L499.55,238.00 L500.00,237.50Z" fill="#bb1232" stroke="#000" stroke-opacity="0.3" stroke-width="0.5"/>
<path d="M500.00,237.50 L500.45,238.00 L500.87,238.50 L501.24,239.00 L501.56,239.50 L501.78,240.00 L501.95,240.50 L502.16,241.00 L502.50,241.50 L503.80,242.00 L505.78,242.50 L506.80,243.00 L505.32,243.50 L503.00,244.00 L501.41,244.50 L500.00,245.00 L500.00,245.00 L498.59,244.50 L497.00,244.00 L494.68,243.50 L493.20,243.00 L494.22,242.50 L496.20,242.00 L497.50,241.50 L497.84,241.00 L498.05,240.50 L498.22,240.00 L498.44,239.50 L498.76,239.00 L499.13,238.50 L499.55,238.00 L500.00,237.50Z" fill="#000" fill-opacity="0.30"/>
<circle cx="500.00" cy="231.70" r="0.95" fill="#111"/>
<circle cx="500.00" cy="234.50" r="0.95" fill="#111"/>
<line x1="432.60" y1="176.70" x2="432.60" y2="260.20" stroke="#3c3c3c" stroke-width="1.60"/>
<line x1="431.80" y1="259.40" x2="513.00" y2="259.40" stroke="#3c3c3c" stroke-width="1.60"/>
<text x="473.00" y="170.30" font-size="9.8" text-anchor="middle" textLength="40.8" lengthAdjust="spacingAndGlyphs" fill="#2a2a2a" stroke="#2a2a2a" stroke-width="0.25">Succinate</text>
<text x="399.50" y="160.60" font-size="11.6" font-weight="bold" fill="#111" stroke="#111" stroke-width="0.3">H</text>
<text transform="translate(406.80,217.40) rotate(-90)" font-size="9.4" text-anchor="middle" textLength="21.4" lengthAdjust="spacingAndGlyphs" fill="#2a2a2a" stroke="#2a2a2a" stroke-width="0.2">umol/L</text>
<line x1="99.90" y1="321.70" x2="102.70" y2="321.70" stroke="#3c3c3c" stroke-width="1.1"/>
<text x="96.50" y="324.40" font-size="8.53" text-anchor="end" textLength="17.27" lengthAdjust="spacingAndGlyphs" fill="#2a2a2a" stroke="#2a2a2a" stroke-width="0.18">1500</text>
<line x1="99.90" y1="341.25" x2="102.70" y2="341.25" stroke="#3c3c3c" stroke-width="1.1"/>
<text x="96.50" y="343.95" font-size="8.53" text-anchor="end" textLength="17.27" lengthAdjust="spacingAndGlyphs" fill="#2a2a2a" stroke="#2a2a2a" stroke-width="0.18">1000</text>
<line x1="99.90" y1="360.80" x2="102.70" y2="360.80" stroke="#3c3c3c" stroke-width="1.1"/>
<text x="96.50" y="363.50" font-size="8.53" text-anchor="end" textLength="12.88" lengthAdjust="spacingAndGlyphs" fill="#2a2a2a" stroke="#2a2a2a" stroke-width="0.18">500</text>
<line x1="99.90" y1="380.35" x2="102.70" y2="380.35" stroke="#3c3c3c" stroke-width="1.1"/>
<text x="96.50" y="383.05" font-size="8.53" text-anchor="end" textLength="4.09" lengthAdjust="spacingAndGlyphs" fill="#2a2a2a" stroke="#2a2a2a" stroke-width="0.18">0</text>
<line x1="99.90" y1="399.90" x2="102.70" y2="399.90" stroke="#3c3c3c" stroke-width="1.1"/>
<text x="96.50" y="402.60" font-size="8.53" text-anchor="end" textLength="17.49" lengthAdjust="spacingAndGlyphs" fill="#2a2a2a" stroke="#2a2a2a" stroke-width="0.18">−500</text>
<line x1="103.70" y1="380.45" x2="183.20" y2="380.45" stroke="#444" stroke-width="1.0" stroke-dasharray="2 1.9"/>
<path d="M115.20,375.50 L117.04,376.00 L118.70,376.50 L120.49,377.00 L121.50,377.50 L121.16,378.00 L120.20,378.50 L115.20,379.00 L115.20,379.00 L110.20,378.50 L109.24,378.00 L108.90,377.50 L109.91,377.00 L111.70,376.50 L113.36,376.00 L115.20,375.50Z" fill="#2ba6de" stroke="#000" stroke-opacity="0.3" stroke-width="0.5"/>
<path d="M115.20,375.50 L117.04,376.00 L118.70,376.50 L120.49,377.00 L121.50,377.50 L121.16,378.00 L120.20,378.50 L115.20,379.00 L115.20,379.00 L110.20,378.50 L109.24,378.00 L108.90,377.50 L109.91,377.00 L111.70,376.50 L113.36,376.00 L115.20,375.50Z" fill="#000" fill-opacity="0.60"/>
<circle cx="115.20" cy="371.20" r="0.95" fill="#111"/>
<path d="M133.90,374.50 L135.25,375.00 L136.40,375.50 L137.35,376.00 L138.19,376.50 L138.90,377.00 L139.61,377.50 L140.00,378.00 L139.55,378.50 L137.59,379.00 L133.90,379.30 L133.90,379.30 L130.21,379.00 L128.25,378.50 L127.80,378.00 L128.19,377.50 L128.90,377.00 L129.61,376.50 L130.45,376.00 L131.40,375.50 L132.55,375.00 L133.90,374.50Z" fill="#f6b60c" stroke="#000" stroke-opacity="0.3" stroke-width="0.5"/>
<path d="M133.90,374.50 L135.25,375.00 L136.40,375.50 L137.35,376.00 L138.19,376.50 L138.90,377.00 L139.61,377.50 L140.00,378.00 L139.55,378.50 L137.59,379.00 L133.90,379.30 L133.90,379.30 L130.21,379.00 L128.25,378.50 L127.80,378.00 L128.19,377.50 L128.90,377.00 L129.61,376.50 L130.45,376.00 L131.40,375.50 L132.55,375.00 L133.90,374.50Z" fill="#000" fill-opacity="0.45"/>
<circle cx="133.90" cy="356.00" r="0.95" fill="#111"/>
<path d="M152.30,374.50 L153.61,375.00 L154.80,375.50 L155.99,376.00 L157.11,376.50 L157.80,377.00 L158.14,377.50 L158.36,378.00 L158.15,378.50 L156.30,379.00 L153.12,379.50 L152.30,379.60 L152.30,379.60 L151.48,379.50 L148.30,379.00 L146.45,378.50 L146.24,378.00 L146.46,377.50 L146.80,377.00 L147.49,376.50 L148.61,376.00 L149.80,375.50 L150.99,375.00 L152.30,374.50Z" fill="#78808c" stroke="#000" stroke-opacity="0.3" stroke-width="0.5"/>
<path d="M152.30,374.50 L153.61,375.00 L154.80,375.50 L155.99,376.00 L157.11,376.50 L157.80,377.00 L158.14,377.50 L158.36,378.00 L158.15,378.50 L156.30,379.00 L153.12,379.50 L152.30,379.60 L152.30,379.60 L151.48,379.50 L148.30,379.00 L146.45,378.50 L146.24,378.00 L146.46,377.50 L146.80,377.00 L147.49,376.50 L148.61,376.00 L149.80,375.50 L150.99,375.00 L152.30,374.50Z" fill="#000" fill-opacity="0.60"/>
<path d="M170.70,373.50 L171.17,374.00 L171.70,374.50 L172.28,375.00 L172.93,375.50 L173.70,376.00 L175.01,376.50 L176.39,377.00 L176.66,377.50 L176.31,378.00 L175.70,378.50 L174.43,379.00 L172.26,379.50 L170.70,379.80 L170.70,379.80 L169.14,379.50 L166.97,379.00 L165.70,378.50 L165.09,378.00 L164.74,377.50 L165.01,377.00 L166.39,376.50 L167.70,376.00 L168.47,375.50 L169.12,375.00 L169.70,374.50 L170.23,374.00 L170.70,373.50Z" fill="#bb1232" stroke="#000" stroke-opacity="0.3" stroke-width="0.5"/>
<path d="M170.70,373.50 L171.17,374.00 L171.70,374.50 L172.28,375.00 L172.93,375.50 L173.70,376.00 L175.01,376.50 L176.39,377.00 L176.66,377.50 L176.31,378.00 L175.70,378.50 L174.43,379.00 L172.26,379.50 L170.70,379.80 L170.70,379.80 L169.14,379.50 L166.97,379.00 L165.70,378.50 L165.09,378.00 L164.74,377.50 L165.01,377.00 L166.39,376.50 L167.70,376.00 L168.47,375.50 L169.12,375.00 L169.70,374.50 L170.23,374.00 L170.70,373.50Z" fill="#000" fill-opacity="0.55"/>
<circle cx="170.70" cy="329.80" r="0.95" fill="#111"/>
<line x1="102.70" y1="319.10" x2="102.70" y2="400.55" stroke="#3c3c3c" stroke-width="1.30"/>
<line x1="102.05" y1="399.90" x2="183.20" y2="399.90" stroke="#3c3c3c" stroke-width="1.30"/>
<text x="143.00" y="313.60" font-size="9.8" text-anchor="middle" textLength="31.8" lengthAdjust="spacingAndGlyphs" fill="#2a2a2a" stroke="#2a2a2a" stroke-width="0.25">Acetate</text>
<text x="63.70" y="302.20" font-size="11.6" font-weight="bold" fill="#111" stroke="#111" stroke-width="0.3">I</text>
<text transform="translate(72.00,359.40) rotate(-90)" font-size="9.4" text-anchor="middle" textLength="21.4" lengthAdjust="spacingAndGlyphs" fill="#2a2a2a" stroke="#2a2a2a" stroke-width="0.2">umol/L</text>
<line x1="238.40" y1="321.70" x2="241.20" y2="321.70" stroke="#3c3c3c" stroke-width="1.1"/>
<text x="235.00" y="324.40" font-size="8.53" text-anchor="end" textLength="21.66" lengthAdjust="spacingAndGlyphs" fill="#2a2a2a" stroke="#2a2a2a" stroke-width="0.18">20000</text>
<line x1="238.40" y1="337.34" x2="241.20" y2="337.34" stroke="#3c3c3c" stroke-width="1.1"/>
<text x="235.00" y="340.04" font-size="8.53" text-anchor="end" textLength="21.66" lengthAdjust="spacingAndGlyphs" fill="#2a2a2a" stroke="#2a2a2a" stroke-width="0.18">15000</text>
<line x1="238.40" y1="352.98" x2="241.20" y2="352.98" stroke="#3c3c3c" stroke-width="1.1"/>
<text x="235.00" y="355.68" font-size="8.53" text-anchor="end" textLength="21.66" lengthAdjust="spacingAndGlyphs" fill="#2a2a2a" stroke="#2a2a2a" stroke-width="0.18">10000</text>
<line x1="238.40" y1="368.62" x2="241.20" y2="368.62" stroke="#3c3c3c" stroke-width="1.1"/>
<text x="235.00" y="371.32" font-size="8.53" text-anchor="end" textLength="17.27" lengthAdjust="spacingAndGlyphs" fill="#2a2a2a" stroke="#2a2a2a" stroke-width="0.18">5000</text>
<line x1="238.40" y1="384.26" x2="241.20" y2="384.26" stroke="#3c3c3c" stroke-width="1.1"/>
<text x="235.00" y="386.96" font-size="8.53" text-anchor="end" textLength="4.09" lengthAdjust="spacingAndGlyphs" fill="#2a2a2a" stroke="#2a2a2a" stroke-width="0.18">0</text>
<line x1="238.40" y1="399.90" x2="241.20" y2="399.90" stroke="#3c3c3c" stroke-width="1.1"/>
<text x="235.00" y="402.60" font-size="8.53" text-anchor="end" textLength="21.88" lengthAdjust="spacingAndGlyphs" fill="#2a2a2a" stroke="#2a2a2a" stroke-width="0.18">−5000</text>
<line x1="242.20" y1="384.36" x2="321.60" y2="384.36" stroke="#444" stroke-width="1.0" stroke-dasharray="2 1.9"/>
<path d="M253.90,357.00 L254.81,357.50 L255.17,358.00 L255.30,358.50 L255.37,359.00 L255.40,359.50 L255.35,360.00 L255.22,360.50 L255.08,361.00 L254.95,361.50 L254.90,362.00 L254.90,362.50 L254.90,363.00 L254.90,363.50 L255.12,364.00 L255.64,364.50 L256.21,365.00 L256.68,365.50 L257.20,366.00 L257.75,366.50 L258.30,367.00 L258.81,367.50 L259.22,368.00 L259.50,368.50 L259.60,369.00 L259.47,369.50 L259.16,370.00 L258.75,370.50 L258.34,371.00 L258.03,371.50 L257.90,372.00 L258.02,372.50 L258.32,373.00 L258.71,373.50 L259.11,374.00 L259.43,374.50 L259.59,375.00 L259.50,375.50 L259.15,376.00 L258.62,376.50 L258.01,377.00 L257.40,377.50 L256.76,378.00 L256.01,378.50 L255.18,379.00 L254.28,379.50 L253.90,379.70 L253.90,379.70 L253.52,379.50 L252.62,379.00 L251.79,378.50 L251.04,378.00 L250.40,377.50 L249.79,377.00 L249.18,376.50 L248.65,376.00 L248.30,375.50 L248.21,375.00 L248.37,374.50 L248.69,374.00 L249.09,373.50 L249.48,373.00 L249.78,372.50 L249.90,372.00 L249.77,371.50 L249.46,371.00 L249.05,370.50 L248.64,370.00 L248.33,369.50 L248.20,369.00 L248.30,368.50 L248.58,368.00 L248.99,367.50 L249.50,367.00 L250.05,366.50 L250.60,366.00 L251.12,365.50 L251.59,365.00 L252.16,364.50 L252.68,364.00 L252.90,363.50 L252.90,363.00 L252.90,362.50 L252.90,362.00 L252.85,361.50 L252.72,361.00 L252.58,360.50 L252.45,360.00 L252.40,359.50 L252.43,359.00 L252.50,358.50 L252.63,358.00 L252.99,357.50 L253.90,357.00Z" fill="#2ba6de" stroke="#000" stroke-opacity="0.3" stroke-width="0.5"/>
<circle cx="253.90" cy="359.50" r="0.95" fill="#111"/>
<circle cx="251.40" cy="367.00" r="0.95" fill="#111"/>
<circle cx="256.40" cy="367.00" r="0.95" fill="#111"/>
<circle cx="249.90" cy="369.00" r="0.95" fill="#111"/>
<circle cx="253.90" cy="369.00" r="0.95" fill="#111"/>
<circle cx="257.90" cy="369.00" r="0.95" fill="#111"/>
<circle cx="251.40" cy="371.50" r="0.95" fill="#111"/>
<circle cx="256.40" cy="371.50" r="0.95" fill="#111"/>
<circle cx="249.90" cy="375.00" r="0.95" fill="#111"/>
<circle cx="253.90" cy="375.00" r="0.95" fill="#111"/>
<circle cx="257.90" cy="375.00" r="0.95" fill="#111"/>
<circle cx="253.90" cy="378.00" r="0.95" fill="#111"/>
<path d="M272.30,336.10 L272.55,336.60 L272.80,337.10 L273.00,337.60 L273.12,338.10 L273.20,338.60 L273.27,339.10 L273.33,339.60 L273.39,340.10 L273.43,340.60 L273.48,341.10 L273.52,341.60 L273.55,342.10 L273.59,342.60 L273.62,343.10 L273.66,343.60 L273.69,344.10 L273.73,344.60 L273.78,345.10 L273.83,345.60 L273.88,346.10 L273.93,346.60 L273.98,347.10 L274.03,347.60 L274.08,348.10 L274.12,348.60 L274.17,349.10 L274.22,349.60 L274.27,350.10 L274.33,350.60 L274.38,351.10 L274.44,351.60 L274.49,352.10 L274.55,352.60 L274.61,353.10 L274.68,353.60 L274.74,354.10 L274.81,354.60 L274.89,355.10 L274.97,355.60 L275.06,356.10 L275.15,356.60 L275.24,357.10 L275.34,357.60 L275.45,358.10 L275.55,358.60 L275.66,359.10 L275.76,359.60 L275.87,360.10 L275.98,360.60 L276.09,361.10 L276.20,361.60 L276.30,362.10 L276.41,362.60 L276.54,363.10 L276.67,363.60 L276.81,364.10 L276.96,364.60 L277.10,365.10 L277.24,365.60 L277.37,366.10 L277.49,366.60 L277.60,367.10 L277.69,367.60 L277.75,368.10 L277.79,368.60 L277.80,369.10 L277.79,369.60 L277.77,370.10 L277.74,370.60 L277.70,371.10 L277.65,371.60 L277.60,372.10 L277.54,372.60 L277.47,373.10 L277.40,373.60 L277.33,374.10 L277.25,374.60 L277.12,375.10 L276.96,375.60 L276.77,376.10 L276.55,376.60 L276.32,377.10 L276.07,377.60 L275.82,378.10 L275.58,378.60 L275.34,379.10 L275.13,379.60 L274.93,380.10 L274.77,380.60 L274.62,381.10 L274.49,381.60 L274.36,382.10 L274.23,382.60 L274.12,383.10 L274.00,383.60 L273.89,384.10 L273.77,384.60 L273.66,385.10 L273.54,385.60 L273.42,386.10 L273.30,386.60 L273.17,387.10 L273.04,387.60 L272.91,388.10 L272.78,388.60 L272.65,389.10 L272.51,389.60 L272.38,390.10 L272.30,390.40 L272.30,390.40 L272.22,390.10 L272.09,389.60 L271.95,389.10 L271.82,388.60 L271.69,388.10 L271.56,387.60 L271.43,387.10 L271.30,386.60 L271.18,386.10 L271.06,385.60 L270.94,385.10 L270.83,384.60 L270.71,384.10 L270.60,383.60 L270.48,383.10 L270.37,382.60 L270.24,382.10 L270.11,381.60 L269.98,381.10 L269.83,380.60 L269.67,380.10 L269.47,379.60 L269.26,379.10 L269.02,378.60 L268.78,378.10 L268.53,377.60 L268.28,377.10 L268.05,376.60 L267.83,376.10 L267.64,375.60 L267.48,375.10 L267.35,374.60 L267.27,374.10 L267.20,373.60 L267.13,373.10 L267.06,372.60 L267.00,372.10 L266.95,371.60 L266.90,371.10 L266.86,370.60 L266.83,370.10 L266.81,369.60 L266.80,369.10 L266.81,368.60 L266.85,368.10 L266.91,367.60 L267.00,367.10 L267.11,366.60 L267.23,366.10 L267.36,365.60 L267.50,365.10 L267.64,364.60 L267.79,364.10 L267.93,363.60 L268.06,363.10 L268.19,362.60 L268.30,362.10 L268.40,361.60 L268.51,361.10 L268.62,360.60 L268.73,360.10 L268.84,359.60 L268.94,359.10 L269.05,358.60 L269.15,358.10 L269.26,357.60 L269.36,357.10 L269.45,356.60 L269.54,356.10 L269.63,355.60 L269.71,355.10 L269.79,354.60 L269.86,354.10 L269.92,353.60 L269.99,353.10 L270.05,352.60 L270.11,352.10 L270.16,351.60 L270.22,351.10 L270.27,350.60 L270.33,350.10 L270.38,349.60 L270.43,349.10 L270.48,348.60 L270.52,348.10 L270.57,347.60 L270.62,347.10 L270.67,346.60 L270.72,346.10 L270.77,345.60 L270.82,345.10 L270.87,344.60 L270.91,344.10 L270.94,343.60 L270.98,343.10 L271.01,342.60 L271.05,342.10 L271.08,341.60 L271.12,341.10 L271.17,340.60 L271.21,340.10 L271.27,339.60 L271.33,339.10 L271.40,338.60 L271.48,338.10 L271.60,337.60 L271.80,337.10 L272.05,336.60 L272.30,336.10Z" fill="#f6b60c" stroke="#000" stroke-opacity="0.3" stroke-width="0.5"/>
<line x1="267.30" y1="369.00" x2="277.30" y2="369.00" stroke="#111" stroke-width="0.9"/>
<line x1="267.50" y1="374.30" x2="277.10" y2="374.30" stroke="#111" stroke-width="0.9"/>
<line x1="272.30" y1="361.00" x2="272.30" y2="380.00" stroke="#111" stroke-width="0.7"/>
<circle cx="272.30" cy="345.00" r="0.95" fill="#111"/>
<circle cx="272.30" cy="354.00" r="0.95" fill="#111"/>
<circle cx="272.30" cy="361.00" r="0.95" fill="#111"/>
<circle cx="272.30" cy="380.00" r="0.95" fill="#111"/>
<path d="M290.60,355.50 L291.26,356.00 L291.79,356.50 L292.10,357.00 L292.27,357.50 L292.38,358.00 L292.39,358.50 L292.27,359.00 L292.07,359.50 L291.85,360.00 L291.67,360.50 L291.60,361.00 L291.60,361.50 L291.60,362.00 L291.60,362.50 L291.60,363.00 L291.60,363.50 L291.60,364.00 L291.60,364.50 L291.60,365.00 L291.69,365.50 L291.92,366.00 L292.26,366.50 L292.66,367.00 L293.07,367.50 L293.46,368.00 L293.82,368.50 L294.23,369.00 L294.70,369.50 L295.17,370.00 L295.63,370.50 L296.03,371.00 L296.35,371.50 L296.55,372.00 L296.60,372.50 L296.52,373.00 L296.34,373.50 L296.08,374.00 L295.76,374.50 L295.39,375.00 L295.00,375.50 L294.60,376.00 L294.15,376.50 L293.58,377.00 L292.93,377.50 L292.21,378.00 L291.43,378.50 L290.60,379.00 L290.60,379.00 L289.77,378.50 L288.99,378.00 L288.27,377.50 L287.62,377.00 L287.05,376.50 L286.60,376.00 L286.20,375.50 L285.81,375.00 L285.44,374.50 L285.12,374.00 L284.86,373.50 L284.68,373.00 L284.60,372.50 L284.65,372.00 L284.85,371.50 L285.17,371.00 L285.57,370.50 L286.03,370.00 L286.50,369.50 L286.97,369.00 L287.38,368.50 L287.74,368.00 L288.13,367.50 L288.54,367.00 L288.94,366.50 L289.28,366.00 L289.51,365.50 L289.60,365.00 L289.60,364.50 L289.60,364.00 L289.60,363.50 L289.60,363.00 L289.60,362.50 L289.60,362.00 L289.60,361.50 L289.60,361.00 L289.53,360.50 L289.35,360.00 L289.13,359.50 L288.93,359.00 L288.81,358.50 L288.82,358.00 L288.93,357.50 L289.10,357.00 L289.41,356.50 L289.94,356.00 L290.60,355.50Z" fill="#78808c" stroke="#000" stroke-opacity="0.3" stroke-width="0.5"/>
<circle cx="290.60" cy="345.60" r="0.95" fill="#111"/>
<circle cx="290.60" cy="358.30" r="0.95" fill="#111"/>
<circle cx="290.60" cy="363.00" r="0.95" fill="#111"/>
<circle cx="287.60" cy="370.00" r="0.95" fill="#111"/>
<circle cx="290.60" cy="370.00" r="0.95" fill="#111"/>
<circle cx="293.60" cy="370.00" r="0.95" fill="#111"/>
<circle cx="286.10" cy="372.50" r="0.95" fill="#111"/>
<circle cx="289.10" cy="372.50" r="0.95" fill="#111"/>
<circle cx="292.10" cy="372.50" r="0.95" fill="#111"/>
<circle cx="295.10" cy="372.50" r="0.95" fill="#111"/>
<circle cx="288.60" cy="375.50" r="0.95" fill="#111"/>
<circle cx="292.60" cy="375.50" r="0.95" fill="#111"/>
<circle cx="290.60" cy="378.00" r="0.95" fill="#111"/>
<path d="M309.20,342.10 L309.46,342.60 L309.72,343.10 L309.97,343.60 L310.19,344.10 L310.38,344.60 L310.53,345.10 L310.64,345.60 L310.69,346.10 L310.70,346.60 L310.69,347.10 L310.67,347.60 L310.64,348.10 L310.61,348.60 L310.58,349.10 L310.54,349.60 L310.51,350.10 L310.47,350.60 L310.44,351.10 L310.42,351.60 L310.40,352.10 L310.38,352.60 L310.36,353.10 L310.35,353.60 L310.33,354.10 L310.31,354.60 L310.30,355.10 L310.28,355.60 L310.27,356.10 L310.25,356.60 L310.24,357.10 L310.23,357.60 L310.22,358.10 L310.21,358.60 L310.21,359.10 L310.20,359.60 L310.20,360.10 L310.20,360.60 L310.24,361.10 L310.30,361.60 L310.40,362.10 L310.52,362.60 L310.66,363.10 L310.82,363.60 L310.99,364.10 L311.16,364.60 L311.34,365.10 L311.52,365.60 L311.70,366.10 L311.89,366.60 L312.12,367.10 L312.37,367.60 L312.63,368.10 L312.90,368.60 L313.16,369.10 L313.40,369.60 L313.62,370.10 L313.82,370.60 L314.02,371.10 L314.23,371.60 L314.43,372.10 L314.62,372.60 L314.78,373.10 L314.90,373.60 L314.98,374.10 L315.00,374.60 L314.92,375.10 L314.74,375.60 L314.49,376.10 L314.19,376.60 L313.84,377.10 L313.49,377.60 L313.14,378.10 L312.82,378.60 L312.53,379.10 L312.22,379.60 L311.90,380.10 L311.58,380.60 L311.26,381.10 L310.95,381.60 L310.65,382.10 L310.39,382.60 L310.16,383.10 L309.95,383.60 L309.75,384.10 L309.57,384.60 L309.40,385.10 L309.25,385.60 L309.20,385.80 L309.20,385.80 L309.15,385.60 L309.00,385.10 L308.83,384.60 L308.65,384.10 L308.45,383.60 L308.24,383.10 L308.01,382.60 L307.75,382.10 L307.45,381.60 L307.14,381.10 L306.82,380.60 L306.50,380.10 L306.18,379.60 L305.87,379.10 L305.58,378.60 L305.26,378.10 L304.91,377.60 L304.56,377.10 L304.21,376.60 L303.91,376.10 L303.66,375.60 L303.48,375.10 L303.40,374.60 L303.42,374.10 L303.50,373.60 L303.62,373.10 L303.78,372.60 L303.97,372.10 L304.17,371.60 L304.38,371.10 L304.58,370.60 L304.78,370.10 L305.00,369.60 L305.24,369.10 L305.50,368.60 L305.77,368.10 L306.03,367.60 L306.28,367.10 L306.51,366.60 L306.70,366.10 L306.88,365.60 L307.06,365.10 L307.24,364.60 L307.41,364.10 L307.58,363.60 L307.74,363.10 L307.88,362.60 L308.00,362.10 L308.10,361.60 L308.16,361.10 L308.20,360.60 L308.20,360.10 L308.20,359.60 L308.19,359.10 L308.19,358.60 L308.18,358.10 L308.17,357.60 L308.16,357.10 L308.15,356.60 L308.13,356.10 L308.12,355.60 L308.10,355.10 L308.09,354.60 L308.07,354.10 L308.05,353.60 L308.04,353.10 L308.02,352.60 L308.00,352.10 L307.98,351.60 L307.96,351.10 L307.93,350.60 L307.89,350.10 L307.86,349.60 L307.82,349.10 L307.79,348.60 L307.76,348.10 L307.73,347.60 L307.71,347.10 L307.70,346.60 L307.71,346.10 L307.76,345.60 L307.87,345.10 L308.02,344.60 L308.21,344.10 L308.43,343.60 L308.68,343.10 L308.94,342.60 L309.20,342.10Z" fill="#bb1232" stroke="#000" stroke-opacity="0.3" stroke-width="0.5"/>
<circle cx="309.20" cy="350.00" r="0.95" fill="#111"/>
<circle cx="309.20" cy="363.00" r="0.95" fill="#111"/>
<circle cx="307.20" cy="370.00" r="0.95" fill="#111"/>
<circle cx="311.20" cy="370.00" r="0.95" fill="#111"/>
<circle cx="309.20" cy="374.50" r="0.95" fill="#111"/>
<circle cx="306.20" cy="377.00" r="0.95" fill="#111"/>
<circle cx="312.20" cy="377.00" r="0.95" fill="#111"/>
<circle cx="309.20" cy="381.00" r="0.95" fill="#111"/>
<line x1="241.20" y1="319.10" x2="241.20" y2="400.55" stroke="#3c3c3c" stroke-width="1.30"/>
<line x1="240.55" y1="399.90" x2="321.60" y2="399.90" stroke="#3c3c3c" stroke-width="1.30"/>
<text x="282.00" y="313.60" font-size="9.8" text-anchor="middle" textLength="30.8" lengthAdjust="spacingAndGlyphs" fill="#2a2a2a" stroke="#2a2a2a" stroke-width="0.25">Lactate</text>
<text x="197.70" y="302.20" font-size="11.6" font-weight="bold" fill="#111" stroke="#111" stroke-width="0.3">J</text>
<text transform="translate(206.60,359.40) rotate(-90)" font-size="9.4" text-anchor="middle" textLength="21.4" lengthAdjust="spacingAndGlyphs" fill="#2a2a2a" stroke="#2a2a2a" stroke-width="0.2">umol/L</text>
<line x1="372.30" y1="321.70" x2="375.10" y2="321.70" stroke="#3c3c3c" stroke-width="1.1"/>
<text x="368.90" y="324.40" font-size="8.53" text-anchor="end" textLength="17.27" lengthAdjust="spacingAndGlyphs" fill="#2a2a2a" stroke="#2a2a2a" stroke-width="0.18">1500</text>
<line x1="372.30" y1="341.25" x2="375.10" y2="341.25" stroke="#3c3c3c" stroke-width="1.1"/>
<text x="368.90" y="343.95" font-size="8.53" text-anchor="end" textLength="17.27" lengthAdjust="spacingAndGlyphs" fill="#2a2a2a" stroke="#2a2a2a" stroke-width="0.18">1000</text>
<line x1="372.30" y1="360.80" x2="375.10" y2="360.80" stroke="#3c3c3c" stroke-width="1.1"/>
<text x="368.90" y="363.50" font-size="8.53" text-anchor="end" textLength="12.88" lengthAdjust="spacingAndGlyphs" fill="#2a2a2a" stroke="#2a2a2a" stroke-width="0.18">500</text>
<line x1="372.30" y1="380.35" x2="375.10" y2="380.35" stroke="#3c3c3c" stroke-width="1.1"/>
<text x="368.90" y="383.05" font-size="8.53" text-anchor="end" textLength="4.09" lengthAdjust="spacingAndGlyphs" fill="#2a2a2a" stroke="#2a2a2a" stroke-width="0.18">0</text>
<line x1="372.30" y1="399.90" x2="375.10" y2="399.90" stroke="#3c3c3c" stroke-width="1.1"/>
<text x="368.90" y="402.60" font-size="8.53" text-anchor="end" textLength="17.49" lengthAdjust="spacingAndGlyphs" fill="#2a2a2a" stroke="#2a2a2a" stroke-width="0.18">−500</text>
<line x1="376.10" y1="380.45" x2="455.50" y2="380.45" stroke="#444" stroke-width="1.0" stroke-dasharray="2 1.9"/>
<path d="M388.00,368.30 L391.29,368.80 L392.60,369.30 L393.24,369.80 L393.26,370.30 L393.05,370.80 L392.80,371.30 L392.62,371.80 L392.62,372.30 L392.70,372.80 L392.81,373.30 L392.92,373.80 L392.99,374.30 L392.98,374.80 L392.88,375.30 L392.70,375.80 L392.43,376.30 L391.84,376.80 L390.19,377.30 L388.00,377.80 L388.00,377.80 L385.81,377.30 L384.16,376.80 L383.57,376.30 L383.30,375.80 L383.12,375.30 L383.02,374.80 L383.01,374.30 L383.08,373.80 L383.19,373.30 L383.30,372.80 L383.38,372.30 L383.38,371.80 L383.20,371.30 L382.95,370.80 L382.74,370.30 L382.76,369.80 L383.40,369.30 L384.71,368.80 L388.00,368.30Z" fill="#2ba6de" stroke="#000" stroke-opacity="0.3" stroke-width="0.5"/>
<path d="M388.00,368.30 L391.29,368.80 L392.60,369.30 L393.24,369.80 L393.26,370.30 L393.05,370.80 L392.80,371.30 L392.62,371.80 L392.62,372.30 L392.70,372.80 L392.81,373.30 L392.92,373.80 L392.99,374.30 L392.98,374.80 L392.88,375.30 L392.70,375.80 L392.43,376.30 L391.84,376.80 L390.19,377.30 L388.00,377.80 L388.00,377.80 L385.81,377.30 L384.16,376.80 L383.57,376.30 L383.30,375.80 L383.12,375.30 L383.02,374.80 L383.01,374.30 L383.08,373.80 L383.19,373.30 L383.30,372.80 L383.38,372.30 L383.38,371.80 L383.20,371.30 L382.95,370.80 L382.74,370.30 L382.76,369.80 L383.40,369.30 L384.71,368.80 L388.00,368.30Z" fill="#000" fill-opacity="0.15"/>
<circle cx="385.00" cy="370.00" r="0.95" fill="#111"/>
<circle cx="388.00" cy="369.50" r="0.95" fill="#111"/>
<circle cx="391.00" cy="370.00" r="0.95" fill="#111"/>
<circle cx="384.00" cy="373.00" r="0.95" fill="#111"/>
<circle cx="386.70" cy="373.00" r="0.95" fill="#111"/>
<circle cx="389.30" cy="373.00" r="0.95" fill="#111"/>
<circle cx="392.00" cy="373.00" r="0.95" fill="#111"/>
<circle cx="385.50" cy="376.00" r="0.95" fill="#111"/>
<circle cx="390.50" cy="376.00" r="0.95" fill="#111"/>
<path d="M406.20,336.40 L406.52,336.90 L406.81,337.40 L406.99,337.90 L407.03,338.40 L407.05,338.90 L407.08,339.40 L407.10,339.90 L407.11,340.40 L407.13,340.90 L407.14,341.40 L407.15,341.90 L407.16,342.40 L407.17,342.90 L407.18,343.40 L407.18,343.90 L407.19,344.40 L407.20,344.90 L407.21,345.40 L407.21,345.90 L407.22,346.40 L407.23,346.90 L407.23,347.40 L407.24,347.90 L407.24,348.40 L407.25,348.90 L407.25,349.40 L407.26,349.90 L407.26,350.40 L407.26,350.90 L407.26,351.40 L407.27,351.90 L407.27,352.40 L407.27,352.90 L407.28,353.40 L407.28,353.90 L407.28,354.40 L407.28,354.90 L407.29,355.40 L407.29,355.90 L407.30,356.40 L407.30,356.90 L407.31,357.40 L407.31,357.90 L407.32,358.40 L407.33,358.90 L407.33,359.40 L407.34,359.90 L407.35,360.40 L407.36,360.90 L407.37,361.40 L407.38,361.90 L407.40,362.40 L407.44,362.90 L407.56,363.40 L407.75,363.90 L407.98,364.40 L408.24,364.90 L408.52,365.40 L408.80,365.90 L409.06,366.40 L409.29,366.90 L409.52,367.40 L409.75,367.90 L409.99,368.40 L410.23,368.90 L410.47,369.40 L410.71,369.90 L410.94,370.40 L411.16,370.90 L411.39,371.40 L411.64,371.90 L411.91,372.40 L412.16,372.90 L412.37,373.40 L412.53,373.90 L412.60,374.40 L412.56,374.90 L412.41,375.40 L412.17,375.90 L411.87,376.40 L411.51,376.90 L411.14,377.40 L410.76,377.90 L410.40,378.40 L410.07,378.90 L409.72,379.40 L409.34,379.90 L408.96,380.40 L408.58,380.90 L408.23,381.40 L407.91,381.90 L407.65,382.40 L407.42,382.90 L407.20,383.40 L406.99,383.90 L406.79,384.40 L406.62,384.90 L406.46,385.40 L406.33,385.90 L406.22,386.40 L406.20,386.50 L406.20,386.50 L406.18,386.40 L406.07,385.90 L405.94,385.40 L405.78,384.90 L405.61,384.40 L405.41,383.90 L405.20,383.40 L404.98,382.90 L404.75,382.40 L404.49,381.90 L404.17,381.40 L403.82,380.90 L403.44,380.40 L403.06,379.90 L402.68,379.40 L402.33,378.90 L402.00,378.40 L401.64,377.90 L401.26,377.40 L400.89,376.90 L400.53,376.40 L400.23,375.90 L399.99,375.40 L399.84,374.90 L399.80,374.40 L399.87,373.90 L400.03,373.40 L400.24,372.90 L400.49,372.40 L400.76,371.90 L401.01,371.40 L401.24,370.90 L401.46,370.40 L401.69,369.90 L401.93,369.40 L402.17,368.90 L402.41,368.40 L402.65,367.90 L402.88,367.40 L403.11,366.90 L403.34,366.40 L403.60,365.90 L403.88,365.40 L404.16,364.90 L404.42,364.40 L404.65,363.90 L404.84,363.40 L404.96,362.90 L405.00,362.40 L405.02,361.90 L405.03,361.40 L405.04,360.90 L405.05,360.40 L405.06,359.90 L405.07,359.40 L405.07,358.90 L405.08,358.40 L405.09,357.90 L405.09,357.40 L405.10,356.90 L405.10,356.40 L405.11,355.90 L405.11,355.40 L405.12,354.90 L405.12,354.40 L405.12,353.90 L405.12,353.40 L405.13,352.90 L405.13,352.40 L405.13,351.90 L405.14,351.40 L405.14,350.90 L405.14,350.40 L405.14,349.90 L405.15,349.40 L405.15,348.90 L405.16,348.40 L405.16,347.90 L405.17,347.40 L405.17,346.90 L405.18,346.40 L405.19,345.90 L405.19,345.40 L405.20,344.90 L405.21,344.40 L405.22,343.90 L405.22,343.40 L405.23,342.90 L405.24,342.40 L405.25,341.90 L405.26,341.40 L405.27,340.90 L405.29,340.40 L405.30,339.90 L405.32,339.40 L405.35,338.90 L405.37,338.40 L405.41,337.90 L405.59,337.40 L405.88,336.90 L406.20,336.40Z" fill="#f6b60c" stroke="#000" stroke-opacity="0.3" stroke-width="0.5"/>
<line x1="401.20" y1="372.00" x2="411.20" y2="372.00" stroke="#111" stroke-width="0.9"/>
<line x1="402.70" y1="378.00" x2="409.70" y2="378.00" stroke="#111" stroke-width="0.9"/>
<circle cx="406.20" cy="345.00" r="0.95" fill="#111"/>
<circle cx="406.20" cy="355.50" r="0.95" fill="#111"/>
<circle cx="406.20" cy="369.50" r="0.95" fill="#111"/>
<circle cx="404.20" cy="373.00" r="0.95" fill="#111"/>
<circle cx="408.20" cy="373.00" r="0.95" fill="#111"/>
<circle cx="406.20" cy="376.00" r="0.95" fill="#111"/>
<path d="M424.60,365.50 L425.41,366.00 L426.10,366.50 L426.65,367.00 L427.12,367.50 L427.60,368.00 L428.12,368.50 L428.65,369.00 L429.16,369.50 L429.60,370.00 L430.04,370.50 L430.43,371.00 L430.60,371.50 L430.29,372.00 L429.71,372.50 L429.40,373.00 L429.48,373.50 L429.65,374.00 L429.82,374.50 L429.90,375.00 L429.51,375.50 L428.61,376.00 L427.60,376.50 L426.58,377.00 L425.38,377.50 L424.60,377.80 L424.60,377.80 L423.82,377.50 L422.62,377.00 L421.60,376.50 L420.59,376.00 L419.69,375.50 L419.30,375.00 L419.38,374.50 L419.55,374.00 L419.72,373.50 L419.80,373.00 L419.49,372.50 L418.91,372.00 L418.60,371.50 L418.77,371.00 L419.16,370.50 L419.60,370.00 L420.04,369.50 L420.55,369.00 L421.08,368.50 L421.60,368.00 L422.08,367.50 L422.55,367.00 L423.10,366.50 L423.79,366.00 L424.60,365.50Z" fill="#78808c" stroke="#000" stroke-opacity="0.3" stroke-width="0.5"/>
<path d="M424.60,365.50 L425.41,366.00 L426.10,366.50 L426.65,367.00 L427.12,367.50 L427.60,368.00 L428.12,368.50 L428.65,369.00 L429.16,369.50 L429.60,370.00 L430.04,370.50 L430.43,371.00 L430.60,371.50 L430.29,372.00 L429.71,372.50 L429.40,373.00 L429.48,373.50 L429.65,374.00 L429.82,374.50 L429.90,375.00 L429.51,375.50 L428.61,376.00 L427.60,376.50 L426.58,377.00 L425.38,377.50 L424.60,377.80 L424.60,377.80 L423.82,377.50 L422.62,377.00 L421.60,376.50 L420.59,376.00 L419.69,375.50 L419.30,375.00 L419.38,374.50 L419.55,374.00 L419.72,373.50 L419.80,373.00 L419.49,372.50 L418.91,372.00 L418.60,371.50 L418.77,371.00 L419.16,370.50 L419.60,370.00 L420.04,369.50 L420.55,369.00 L421.08,368.50 L421.60,368.00 L422.08,367.50 L422.55,367.00 L423.10,366.50 L423.79,366.00 L424.60,365.50Z" fill="#000" fill-opacity="0.30"/>
<path d="M424.60,376.00 L424.93,376.50 L425.10,377.00 L425.10,377.50 L425.10,378.00 L425.10,378.50 L425.10,379.00 L425.10,379.50 L425.10,380.00 L425.10,380.50 L424.60,381.00 L424.60,381.00 L424.10,380.50 L424.10,380.00 L424.10,379.50 L424.10,379.00 L424.10,378.50 L424.10,378.00 L424.10,377.50 L424.10,377.00 L424.27,376.50 L424.60,376.00Z" fill="#78808c" stroke="#000" stroke-opacity="0.3" stroke-width="0.5"/>
<path d="M424.60,376.00 L424.93,376.50 L425.10,377.00 L425.10,377.50 L425.10,378.00 L425.10,378.50 L425.10,379.00 L425.10,379.50 L425.10,380.00 L425.10,380.50 L424.60,381.00 L424.60,381.00 L424.10,380.50 L424.10,380.00 L424.10,379.50 L424.10,379.00 L424.10,378.50 L424.10,378.00 L424.10,377.50 L424.10,377.00 L424.27,376.50 L424.60,376.00Z" fill="#000" fill-opacity="0.30"/>
<circle cx="422.10" cy="364.70" r="0.95" fill="#111"/>
<circle cx="424.60" cy="364.70" r="0.95" fill="#111"/>
<circle cx="427.10" cy="364.70" r="0.95" fill="#111"/>
<circle cx="424.60" cy="367.50" r="0.95" fill="#111"/>
<circle cx="420.60" cy="371.50" r="0.95" fill="#111"/>
<circle cx="423.10" cy="371.50" r="0.95" fill="#111"/>
<circle cx="426.10" cy="371.50" r="0.95" fill="#111"/>
<circle cx="428.60" cy="371.50" r="0.95" fill="#111"/>
<circle cx="422.60" cy="374.50" r="0.95" fill="#111"/>
<circle cx="426.60" cy="374.50" r="0.95" fill="#111"/>
<circle cx="424.60" cy="380.50" r="0.95" fill="#111"/>
<path d="M443.10,344.70 L443.62,345.20 L444.08,345.70 L444.45,346.20 L444.68,346.70 L444.86,347.20 L445.02,347.70 L445.17,348.20 L445.28,348.70 L445.36,349.20 L445.40,349.70 L445.38,350.20 L445.26,350.70 L445.07,351.20 L444.86,351.70 L444.68,352.20 L444.56,352.70 L444.45,353.20 L444.34,353.70 L444.25,354.20 L444.17,354.70 L444.12,355.20 L444.10,355.70 L444.13,356.20 L444.20,356.70 L444.30,357.20 L444.43,357.70 L444.56,358.20 L444.70,358.70 L444.83,359.20 L444.94,359.70 L445.07,360.20 L445.21,360.70 L445.35,361.20 L445.47,361.70 L445.56,362.20 L445.60,362.70 L445.60,363.20 L445.60,363.70 L445.60,364.20 L445.60,364.70 L445.60,365.20 L445.60,365.70 L445.60,366.20 L445.60,366.70 L445.67,367.20 L445.84,367.70 L446.11,368.20 L446.42,368.70 L446.77,369.20 L447.12,369.70 L447.43,370.20 L447.71,370.70 L448.02,371.20 L448.35,371.70 L448.64,372.20 L448.84,372.70 L448.89,373.20 L448.70,373.70 L448.31,374.20 L447.78,374.70 L447.21,375.20 L446.66,375.70 L446.23,376.20 L445.94,376.70 L445.71,377.20 L445.49,377.70 L445.30,378.20 L445.12,378.70 L444.95,379.20 L444.78,379.70 L444.60,380.20 L444.42,380.70 L444.25,381.20 L444.08,381.70 L443.91,382.20 L443.74,382.70 L443.58,383.20 L443.43,383.70 L443.28,384.20 L443.13,384.70 L443.10,384.80 L443.10,384.80 L443.07,384.70 L442.92,384.20 L442.77,383.70 L442.62,383.20 L442.46,382.70 L442.29,382.20 L442.12,381.70 L441.95,381.20 L441.78,380.70 L441.60,380.20 L441.42,379.70 L441.25,379.20 L441.08,378.70 L440.90,378.20 L440.71,377.70 L440.49,377.20 L440.26,376.70 L439.97,376.20 L439.54,375.70 L438.99,375.20 L438.42,374.70 L437.89,374.20 L437.50,373.70 L437.31,373.20 L437.36,372.70 L437.56,372.20 L437.85,371.70 L438.18,371.20 L438.49,370.70 L438.77,370.20 L439.08,369.70 L439.43,369.20 L439.78,368.70 L440.09,368.20 L440.36,367.70 L440.53,367.20 L440.60,366.70 L440.60,366.20 L440.60,365.70 L440.60,365.20 L440.60,364.70 L440.60,364.20 L440.60,363.70 L440.60,363.20 L440.60,362.70 L440.64,362.20 L440.73,361.70 L440.85,361.20 L440.99,360.70 L441.13,360.20 L441.26,359.70 L441.37,359.20 L441.50,358.70 L441.64,358.20 L441.77,357.70 L441.90,357.20 L442.00,356.70 L442.07,356.20 L442.10,355.70 L442.08,355.20 L442.03,354.70 L441.95,354.20 L441.86,353.70 L441.75,353.20 L441.64,352.70 L441.52,352.20 L441.34,351.70 L441.13,351.20 L440.94,350.70 L440.82,350.20 L440.80,349.70 L440.84,349.20 L440.92,348.70 L441.03,348.20 L441.18,347.70 L441.34,347.20 L441.52,346.70 L441.75,346.20 L442.12,345.70 L442.58,345.20 L443.10,344.70Z" fill="#bb1232" stroke="#000" stroke-opacity="0.3" stroke-width="0.5"/>
<circle cx="443.10" cy="350.00" r="0.95" fill="#111"/>
<circle cx="443.10" cy="363.00" r="0.95" fill="#111"/>
<circle cx="441.10" cy="366.00" r="0.95" fill="#111"/>
<circle cx="445.10" cy="366.00" r="0.95" fill="#111"/>
<circle cx="439.60" cy="373.00" r="0.95" fill="#111"/>
<circle cx="443.10" cy="373.00" r="0.95" fill="#111"/>
<circle cx="446.60" cy="373.00" r="0.95" fill="#111"/>
<circle cx="443.10" cy="377.00" r="0.95" fill="#111"/>
<circle cx="443.10" cy="380.50" r="0.95" fill="#111"/>
<line x1="375.10" y1="319.10" x2="375.10" y2="400.55" stroke="#3c3c3c" stroke-width="1.30"/>
<line x1="374.45" y1="399.90" x2="455.50" y2="399.90" stroke="#3c3c3c" stroke-width="1.30"/>
<text x="415.00" y="313.60" font-size="9.8" text-anchor="middle" textLength="35.4" lengthAdjust="spacingAndGlyphs" fill="#2a2a2a" stroke="#2a2a2a" stroke-width="0.25">iButyrate</text>
<text x="337.10" y="302.20" font-size="11.6" font-weight="bold" fill="#111" stroke="#111" stroke-width="0.3">K</text>
<text transform="translate(344.40,359.40) rotate(-90)" font-size="9.4" text-anchor="middle" textLength="21.4" lengthAdjust="spacingAndGlyphs" fill="#2a2a2a" stroke="#2a2a2a" stroke-width="0.2">umol/L</text>
<path d="M183.5,223.7 V182.5 H202.0 V208.5" fill="none" stroke="#333" stroke-width="1.1"/>
<path d="M204.5,204.0 V182.5 H241.5 V216.3" fill="none" stroke="#333" stroke-width="1.1"/>
<text x="192.9" y="181.2" font-size="7.5" text-anchor="middle" fill="#222" stroke="#222" stroke-width="0.15">*</text>
<text x="223.4" y="181.2" font-size="7.5" text-anchor="middle" fill="#222" stroke="#222" stroke-width="0.15">**</text>
<text x="260" y="14.7" font-size="9.8" text-anchor="middle" fill="#2a2a2a" stroke="#2a2a2a" stroke-width="0.25">Stool</text>
<text x="260" y="286.5" font-size="9.6" text-anchor="middle" fill="#2a2a2a" stroke="#2a2a2a" stroke-width="0.25">Serum</text>
<rect x="163.00" y="411.5" width="10.6" height="5.4" fill="#2ba6de"/>
<circle cx="168.30" cy="414.2" r="2.0" fill="#111"/>
<text x="177.00" y="416.3" font-size="7.4" fill="#2a2a2a" stroke="#2a2a2a" stroke-width="0.2">Control Pre</text>
<rect x="219.80" y="411.5" width="10.6" height="5.4" fill="#f6b60c"/>
<circle cx="225.10" cy="414.2" r="2.0" fill="#111"/>
<text x="233.80" y="416.3" font-size="7.4" fill="#2a2a2a" stroke="#2a2a2a" stroke-width="0.2">Control Post</text>
<rect x="280.10" y="411.5" width="10.6" height="5.4" fill="#78808c"/>
<circle cx="285.40" cy="414.2" r="2.0" fill="#111"/>
<text x="294.10" y="416.3" font-size="7.4" fill="#2a2a2a" stroke="#2a2a2a" stroke-width="0.2">Prebiotic Pre</text>
<rect x="341.40" y="411.5" width="10.6" height="5.4" fill="#bb1232"/>
<circle cx="346.70" cy="414.2" r="2.0" fill="#111"/>
<text x="355.40" y="416.3" font-size="7.4" fill="#2a2a2a" stroke="#2a2a2a" stroke-width="0.2">Prebiotic Post</text>
</svg></body></html>
